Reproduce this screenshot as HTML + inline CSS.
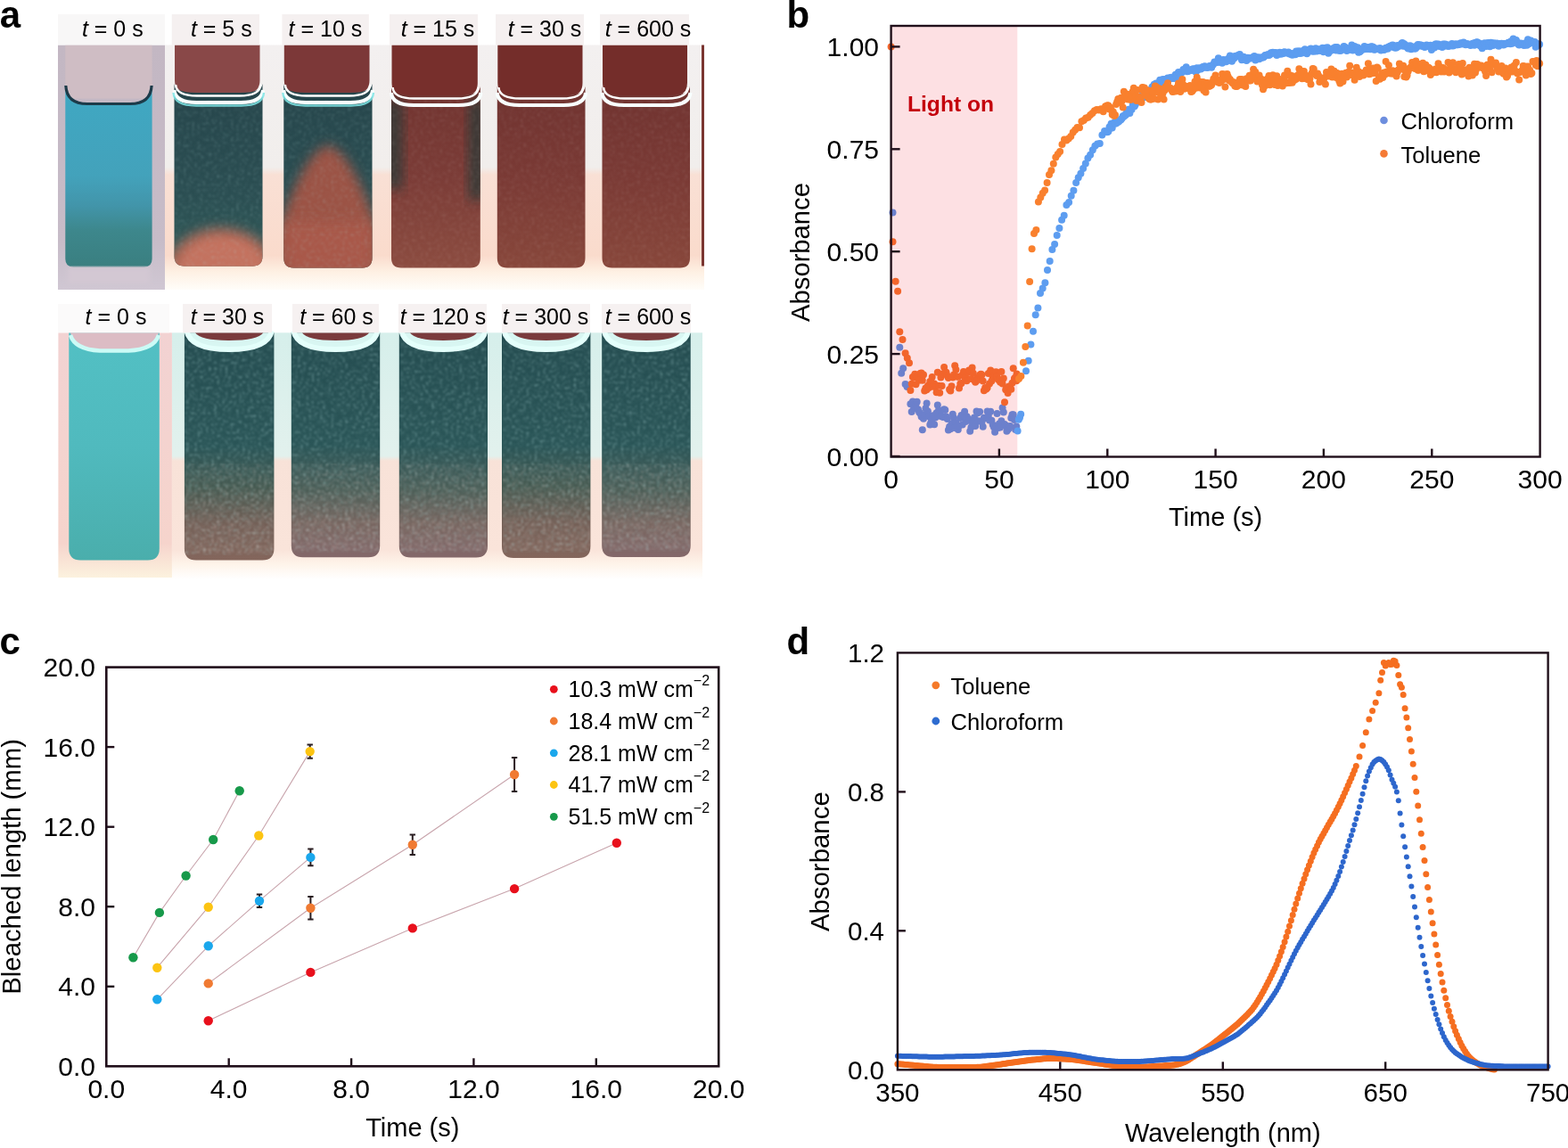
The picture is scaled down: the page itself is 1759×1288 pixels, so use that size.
<!DOCTYPE html>
<html><head><meta charset="utf-8"><title>Figure</title>
<style>html,body{margin:0;padding:0;background:#fff;width:1759px;height:1288px;overflow:hidden}svg{display:block}</style>
</head><body>
<svg width="1759" height="1288" viewBox="0 0 1759 1288" font-family="'Liberation Sans', Arial, Helvetica, sans-serif">
<defs><filter id="soft" x="-5%" y="-20%" width="110%" height="140%"><feGaussianBlur stdDeviation="0.7"/></filter><filter id="soft2" x="-10%" y="-10%" width="120%" height="120%"><feGaussianBlur stdDeviation="2.5"/></filter><filter id="blur6" x="-30%" y="-30%" width="160%" height="160%"><feGaussianBlur stdDeviation="7"/></filter><filter id="blur3" x="-30%" y="-30%" width="160%" height="160%"><feGaussianBlur stdDeviation="3.5"/></filter><filter id="grain" x="0" y="0" width="100%" height="100%"><feTurbulence type="fractalNoise" baseFrequency="0.32" numOctaves="2" seed="4"/><feColorMatrix values="0 0 0 0 0.45  0 0 0 0 0.72  0 0 0 0 0.72  0 0 0 3.0 -1.5"/><feGaussianBlur stdDeviation="0.8"/></filter><filter id="grainp" x="0" y="0" width="100%" height="100%"><feTurbulence type="fractalNoise" baseFrequency="0.32" numOctaves="2" seed="9"/><feColorMatrix values="0 0 0 0 0.85  0 0 0 0 0.75  0 0 0 0 0.72  0 0 0 3.0 -1.45"/><feGaussianBlur stdDeviation="0.8"/></filter><linearGradient id="c1liq" x1="0" y1="0" x2="0" y2="1"><stop offset="0" stop-color="#3fa8c3"/><stop offset="0.5" stop-color="#43a2bb"/><stop offset="0.66" stop-color="#4295aa"/><stop offset="0.8" stop-color="#3d878c"/><stop offset="1" stop-color="#3a7f80"/></linearGradient><linearGradient id="strip" x1="0" y1="0" x2="0" y2="1"><stop offset="0" stop-color="#f3f0f0"/><stop offset="0.5" stop-color="#f1eeec"/><stop offset="0.53" stop-color="#f9e0d5"/><stop offset="0.86" stop-color="#fadbcc"/><stop offset="0.93" stop-color="#fef1e4"/><stop offset="1" stop-color="#fffdf9"/></linearGradient><linearGradient id="c2liq" x1="0" y1="0" x2="0" y2="1"><stop offset="0" stop-color="#26454b"/><stop offset="0.6" stop-color="#2b4e52"/><stop offset="1" stop-color="#305a58"/></linearGradient><linearGradient id="c4liq" x1="0" y1="0" x2="0" y2="1"><stop offset="0" stop-color="#713430"/><stop offset="0.5" stop-color="#7b3c37"/><stop offset="1" stop-color="#8c4c40"/></linearGradient><linearGradient id="c5liq" x1="0" y1="0" x2="0" y2="1"><stop offset="0" stop-color="#703330"/><stop offset="0.5" stop-color="#7a3a35"/><stop offset="1" stop-color="#88473b"/></linearGradient><linearGradient id="b1liq" x1="0" y1="0" x2="0" y2="1"><stop offset="0" stop-color="#52c0c4"/><stop offset="0.5" stop-color="#50babe"/><stop offset="1" stop-color="#4aaeac"/></linearGradient><linearGradient id="bliq" x1="0" y1="0" x2="0" y2="1"><stop offset="0" stop-color="#244c50"/><stop offset="0.5" stop-color="#2a5557"/><stop offset="0.68" stop-color="#44584f"/><stop offset="0.84" stop-color="#725e55"/><stop offset="1" stop-color="#84665c"/></linearGradient><linearGradient id="bliq2" x1="0" y1="0" x2="0" y2="1"><stop offset="0" stop-color="#244c50"/><stop offset="0.5" stop-color="#2a5557"/><stop offset="0.7" stop-color="#4a5c55"/><stop offset="0.85" stop-color="#76645e"/><stop offset="1" stop-color="#84686a"/></linearGradient><linearGradient id="bstrip" x1="0" y1="0" x2="0" y2="1"><stop offset="0" stop-color="#d6efeb"/><stop offset="0.5" stop-color="#e2f1ed"/><stop offset="0.52" stop-color="#f8e2d8"/><stop offset="0.88" stop-color="#fae4da"/><stop offset="0.94" stop-color="#fef4ea"/><stop offset="1" stop-color="#ffffff"/></linearGradient><linearGradient id="b1out" x1="0" y1="0" x2="0" y2="1"><stop offset="0" stop-color="#f2d2d2"/><stop offset="0.86" stop-color="#f6d4cc"/><stop offset="1" stop-color="#fcf2de"/></linearGradient><linearGradient id="c1out" x1="0" y1="0" x2="0" y2="1"><stop offset="0" stop-color="#c3b7c3"/><stop offset="0.8" stop-color="#c7bcc8"/><stop offset="1" stop-color="#d0c7d3"/></linearGradient></defs>
<text x="-0.3" y="30.6" font-size="42" font-weight="bold">a</text>
<rect x="185" y="50.5" width="605" height="274.5" fill="url(#strip)"/>
<rect x="65" y="50.5" width="120" height="274.5" fill="url(#c1out)"/>
<rect x="73.3" y="50.5" width="97.3" height="60" fill="#cfbdc4"/>
<path d="M73.3 96.0Q74.3 117.0 97.6 117.0H146.3Q169.6 117.0 170.6 96.0V290.4Q170.6 299.4 161.6 299.4H82.3Q73.3 299.4 73.3 290.4Z" fill="url(#c1liq)"/>
<path d="M73.8 96.0Q74.8 116.5 97.9 116.5H146.0Q169.1 116.5 170.1 96.0" fill="none" stroke="#1c3a4a" stroke-width="3.2" filter="url(#soft)"/>
<rect x="76" y="300" width="92" height="18" fill="#d3c8d3" filter="url(#soft2)"/>
<path d="M196.0 50.5H291.5V90.0Q291.5 104.0 277.5 104.0H210.0Q196.0 104.0 196.0 90.0Z" fill="#894848"/>
<path d="M195.5 94.0Q196.5 104.0 220.2 104.0H269.8Q293.5 104.0 294.5 94.0V287.5Q294.5 298.5 283.5 298.5H206.5Q195.5 298.5 195.5 287.5Z" fill="url(#c2liq)"/>
<clipPath id="cl0"><path d="M195.5 94.0Q196.5 104.0 220.2 104.0H269.8Q293.5 104.0 294.5 94.0V287.5Q294.5 298.5 283.5 298.5H206.5Q195.5 298.5 195.5 287.5Z"/></clipPath>
<g clip-path="url(#cl0)"><ellipse cx="248.2" cy="312" rx="64" ry="56" fill="#b66a58" filter="url(#blur6)"/><ellipse cx="249.2" cy="302" rx="46" ry="34" fill="#c4725f" filter="url(#blur3)"/></g>
<g clip-path="url(#cl0)"><rect x="196.0" y="112" width="98.5" height="190" filter="url(#grain)" opacity="0.22"/></g>
<path d="M197.0 95.0Q198.0 107.5 220.9 107.5H268.6Q291.5 107.5 292.5 95.0" fill="none" stroke="#ffffff" stroke-width="2.6" filter="url(#soft)"/>
<path d="M195.5 101.0Q196.5 115.0 220.4 115.0H270.1Q294.0 115.0 295.0 101.0" fill="none" stroke="#f8ffff" stroke-width="4" filter="url(#soft)"/>
<path d="M194.5 104.0Q195.5 118.5 219.9 118.5H270.6Q295.0 118.5 296.0 104.0" fill="none" stroke="#7fe6e6" stroke-width="2.4" opacity="0.85" filter="url(#soft)"/>
<path d="M318.8 50.5H414.5V90.0Q414.5 104.0 400.5 104.0H332.8Q318.8 104.0 318.8 90.0Z" fill="#7c3838"/>
<path d="M318.3 94.0Q319.3 104.0 343.1 104.0H392.7Q416.5 104.0 417.5 94.0V289.5Q417.5 300.5 406.5 300.5H329.3Q318.3 300.5 318.3 289.5Z" fill="url(#c2liq)"/>
<clipPath id="cl1"><path d="M318.3 94.0Q319.3 104.0 343.1 104.0H392.7Q416.5 104.0 417.5 94.0V289.5Q417.5 300.5 406.5 300.5H329.3Q318.3 300.5 318.3 289.5Z"/></clipPath>
<g clip-path="url(#cl1)"><path d="M306.8 305 L310.8 262 Q342.1 168 368.1 163 Q394.1 168 425.5 262 L429.5 305Z" fill="#9c5244" filter="url(#blur6)"/><rect x="318.8" y="250" width="98.69999999999999" height="60" fill="#a9594a" filter="url(#blur6)"/></g>
<g clip-path="url(#cl1)"><rect x="318.8" y="112" width="98.69999999999999" height="190" filter="url(#grain)" opacity="0.22"/></g>
<path d="M319.8 95.0Q320.8 107.5 343.7 107.5H391.6Q414.5 107.5 415.5 95.0" fill="none" stroke="#ffffff" stroke-width="2.6" filter="url(#soft)"/>
<path d="M318.3 101.0Q319.3 115.0 343.2 115.0H393.1Q417.0 115.0 418.0 101.0" fill="none" stroke="#f8ffff" stroke-width="4" filter="url(#soft)"/>
<path d="M317.3 104.0Q318.3 118.5 342.7 118.5H393.6Q418.0 118.5 419.0 104.0" fill="none" stroke="#7fe6e6" stroke-width="2.4" opacity="0.85" filter="url(#soft)"/>
<path d="M439.5 50.5H535.8V93.0Q535.8 107.0 521.8 107.0H453.5Q439.5 107.0 439.5 93.0Z" fill="#772f2c"/>
<path d="M439.0 97.0Q440.0 107.0 463.9 107.0H513.8Q537.8 107.0 538.8 97.0V289.5Q538.8 300.5 527.8 300.5H450.0Q439.0 300.5 439.0 289.5Z" fill="url(#c4liq)"/>
<clipPath id="cl2"><path d="M439.0 97.0Q440.0 107.0 463.9 107.0H513.8Q537.8 107.0 538.8 97.0V289.5Q538.8 300.5 527.8 300.5H450.0Q439.0 300.5 439.0 289.5Z"/></clipPath>
<g clip-path="url(#cl2)" opacity="0.85"><rect x="432.5" y="112" width="19" height="100" fill="#2c3a38" filter="url(#blur6)"/><rect x="525.8" y="112" width="19" height="112" fill="#2c3a38" filter="url(#blur6)"/></g>
<g clip-path="url(#cl2)"><rect x="439.5" y="112" width="99.29999999999995" height="190" filter="url(#grainp)" opacity="0.12"/></g>
<path d="M440.5 98.0Q441.5 110.5 464.6 110.5H512.7Q535.8 110.5 536.8 98.0" fill="none" stroke="#ffffff" stroke-width="2.6" filter="url(#soft)"/>
<path d="M439.0 104.0Q440.0 118.0 464.1 118.0H514.2Q538.3 118.0 539.3 104.0" fill="none" stroke="#f8ffff" stroke-width="4" filter="url(#soft)"/>
<path d="M558.3 50.5H653.5V93.0Q653.5 107.0 639.5 107.0H572.3Q558.3 107.0 558.3 93.0Z" fill="#742d2a"/>
<path d="M557.8 97.0Q558.8 107.0 582.5 107.0H631.8Q655.5 107.0 656.5 97.0V289.5Q656.5 300.5 645.5 300.5H568.8Q557.8 300.5 557.8 289.5Z" fill="url(#c5liq)"/>
<clipPath id="cl3"><path d="M557.8 97.0Q558.8 107.0 582.5 107.0H631.8Q655.5 107.0 656.5 97.0V289.5Q656.5 300.5 645.5 300.5H568.8Q557.8 300.5 557.8 289.5Z"/></clipPath>
<g clip-path="url(#cl3)"><rect x="558.3" y="112" width="98.20000000000005" height="190" filter="url(#grainp)" opacity="0.12"/></g>
<path d="M559.3 98.0Q560.3 110.5 583.1 110.5H630.7Q653.5 110.5 654.5 98.0" fill="none" stroke="#ffffff" stroke-width="2.6" filter="url(#soft)"/>
<path d="M557.8 104.0Q558.8 118.0 582.6 118.0H632.2Q656.0 118.0 657.0 104.0" fill="none" stroke="#f8ffff" stroke-width="4" filter="url(#soft)"/>
<path d="M676.0 50.5H771.0V93.0Q771.0 107.0 757.0 107.0H690.0Q676.0 107.0 676.0 93.0Z" fill="#742d2a"/>
<path d="M675.5 97.0Q676.5 107.0 700.1 107.0H749.4Q773.0 107.0 774.0 97.0V289.5Q774.0 300.5 763.0 300.5H686.5Q675.5 300.5 675.5 289.5Z" fill="url(#c5liq)"/>
<clipPath id="cl4"><path d="M675.5 97.0Q676.5 107.0 700.1 107.0H749.4Q773.0 107.0 774.0 97.0V289.5Q774.0 300.5 763.0 300.5H686.5Q675.5 300.5 675.5 289.5Z"/></clipPath>
<g clip-path="url(#cl4)"><rect x="676.0" y="112" width="98.0" height="190" filter="url(#grainp)" opacity="0.12"/></g>
<path d="M677.0 98.0Q678.0 110.5 700.8 110.5H748.2Q771.0 110.5 772.0 98.0" fill="none" stroke="#ffffff" stroke-width="2.6" filter="url(#soft)"/>
<path d="M675.5 104.0Q676.5 118.0 700.2 118.0H749.8Q773.5 118.0 774.5 104.0" fill="none" stroke="#f8ffff" stroke-width="4" filter="url(#soft)"/>
<rect x="787" y="50.5" width="3" height="248" fill="#7a3530"/>
<rect x="65" y="16" width="120" height="34.5" fill="#f8f7f7"/>
<rect x="192.7" y="16" width="98.30000000000001" height="34.5" fill="#f5f0f0"/>
<rect x="316.4" y="16" width="97.40000000000003" height="34.5" fill="#f5f0f0"/>
<rect x="437" y="16" width="99" height="34.5" fill="#f5f0f0"/>
<rect x="556" y="16" width="99" height="34.5" fill="#f5f0f0"/>
<rect x="673" y="16" width="100" height="34.5" fill="#f5f0f0"/>
<rect x="193" y="373.3" width="595" height="276.7" fill="url(#bstrip)"/>
<rect x="65.4" y="373.3" width="127.5" height="274.7" fill="url(#b1out)"/>
<path d="M77.3 373.3H178.8V615.5Q178.8 628.5 165.8 628.5H90.3Q77.3 628.5 77.3 615.5Z" fill="url(#b1liq)"/>
<path d="M79 373.3 Q82 392 110 393 L146 393 Q175 392 178 373.3Z" fill="#dcbcc4"/>
<path d="M79 376 Q84 392 112 393.5 L144 393.5 Q173 392 178 376" fill="none" stroke="#cbfbf6" stroke-width="4.5" filter="url(#soft)"/>
<path d="M206.9 373.3H307.4V615.5Q307.4 628.5 294.4 628.5H219.9Q206.9 628.5 206.9 615.5Z" fill="url(#bliq)"/>
<rect x="207.9" y="380" width="98.49999999999997" height="242.5" filter="url(#grain)" opacity="0.4"/>
<rect x="207.9" y="520" width="98.49999999999997" height="100.5" filter="url(#grainp)" opacity="0.3"/>
<path d="M210.9 373.3 Q215.9 390 257.1 390 Q298.4 390 303.4 373.3Z" fill="#d8f6f2"/>
<path d="M218.9 373.3 Q224.9 382 257.1 382 Q289.4 382 295.4 373.3Z" fill="#7a3a3c"/>
<path d="M209.4 371.3 Q213.9 392 257.1 392 Q300.4 392 304.9 371.3" fill="none" stroke="#e4fffb" stroke-width="6" filter="url(#soft)"/>
<path d="M326.8 373.3H426.2V612.3Q426.2 625.3 413.2 625.3H339.8Q326.8 625.3 326.8 612.3Z" fill="url(#bliq2)"/>
<rect x="327.8" y="380" width="97.39999999999998" height="239.29999999999995" filter="url(#grain)" opacity="0.4"/>
<rect x="327.8" y="520" width="97.39999999999998" height="97.29999999999995" filter="url(#grainp)" opacity="0.3"/>
<path d="M330.8 373.3 Q335.8 390 376.5 390 Q417.2 390 422.2 373.3Z" fill="#d8f6f2"/>
<path d="M338.8 373.3 Q344.8 382 376.5 382 Q408.2 382 414.2 373.3Z" fill="#7a3a3c"/>
<path d="M329.3 371.3 Q333.8 392 376.5 392 Q419.2 392 423.7 371.3" fill="none" stroke="#e4fffb" stroke-width="6" filter="url(#soft)"/>
<path d="M447.8 373.3H547.0V612.5Q547.0 625.5 534.0 625.5H460.8Q447.8 625.5 447.8 612.5Z" fill="url(#bliq2)"/>
<rect x="448.8" y="380" width="97.19999999999999" height="239.5" filter="url(#grain)" opacity="0.4"/>
<rect x="448.8" y="520" width="97.19999999999999" height="97.5" filter="url(#grainp)" opacity="0.3"/>
<path d="M451.8 373.3 Q456.8 390 497.4 390 Q538.0 390 543.0 373.3Z" fill="#d8f6f2"/>
<path d="M459.8 373.3 Q465.8 382 497.4 382 Q529.0 382 535.0 373.3Z" fill="#7a3a3c"/>
<path d="M450.3 371.3 Q454.8 392 497.4 392 Q540.0 392 544.5 371.3" fill="none" stroke="#e4fffb" stroke-width="6" filter="url(#soft)"/>
<path d="M563.0 373.3H662.4V613.0Q662.4 626.0 649.4 626.0H576.0Q563.0 626.0 563.0 613.0Z" fill="url(#bliq)"/>
<rect x="564.0" y="380" width="97.39999999999998" height="240" filter="url(#grain)" opacity="0.4"/>
<rect x="564.0" y="520" width="97.39999999999998" height="98" filter="url(#grainp)" opacity="0.3"/>
<path d="M567.0 373.3 Q572.0 390 612.7 390 Q653.4 390 658.4 373.3Z" fill="#d8f6f2"/>
<path d="M575.0 373.3 Q581.0 382 612.7 382 Q644.4 382 650.4 373.3Z" fill="#7a3a3c"/>
<path d="M565.5 371.3 Q570.0 392 612.7 392 Q655.4 392 659.9 371.3" fill="none" stroke="#e4fffb" stroke-width="6" filter="url(#soft)"/>
<path d="M675.2 373.3H774.7V612.0Q774.7 625.0 761.7 625.0H688.2Q675.2 625.0 675.2 612.0Z" fill="url(#bliq2)"/>
<rect x="676.2" y="380" width="97.5" height="239" filter="url(#grain)" opacity="0.4"/>
<rect x="676.2" y="520" width="97.5" height="97" filter="url(#grainp)" opacity="0.3"/>
<path d="M679.2 373.3 Q684.2 390 725.0 390 Q765.7 390 770.7 373.3Z" fill="#d8f6f2"/>
<path d="M687.2 373.3 Q693.2 382 725.0 382 Q756.7 382 762.7 373.3Z" fill="#7a3a3c"/>
<path d="M677.7 371.3 Q682.2 392 725.0 392 Q767.7 392 772.2 371.3" fill="none" stroke="#e4fffb" stroke-width="6" filter="url(#soft)"/>
<rect x="65" y="341" width="125" height="32.3" fill="#fbfafa"/>
<rect x="205" y="341" width="100" height="32.3" fill="#f6f1f1"/>
<rect x="328" y="341" width="97" height="32.3" fill="#f6f1f1"/>
<rect x="447" y="341" width="99" height="32.3" fill="#f6f1f1"/>
<rect x="563" y="341" width="99" height="32.3" fill="#f6f1f1"/>
<rect x="675" y="341" width="100" height="32.3" fill="#f6f1f1"/>
<text x="126.3" y="40.8" text-anchor="middle" font-size="25"><tspan font-style="italic">t</tspan> = 0 s</text>
<text x="248.3" y="40.8" text-anchor="middle" font-size="25"><tspan font-style="italic">t</tspan> = 5 s</text>
<text x="364.9" y="40.8" text-anchor="middle" font-size="25"><tspan font-style="italic">t</tspan> = 10 s</text>
<text x="491" y="40.8" text-anchor="middle" font-size="25"><tspan font-style="italic">t</tspan> = 15 s</text>
<text x="611" y="40.8" text-anchor="middle" font-size="25"><tspan font-style="italic">t</tspan> = 30 s</text>
<text x="727" y="40.8" text-anchor="middle" font-size="25"><tspan font-style="italic">t</tspan> = 600 s</text>
<text x="130" y="364.2" text-anchor="middle" font-size="25"><tspan font-style="italic">t</tspan> = 0 s</text>
<text x="255" y="364.2" text-anchor="middle" font-size="25"><tspan font-style="italic">t</tspan> = 30 s</text>
<text x="377.5" y="364.2" text-anchor="middle" font-size="25"><tspan font-style="italic">t</tspan> = 60 s</text>
<text x="497" y="364.2" text-anchor="middle" font-size="25"><tspan font-style="italic">t</tspan> = 120 s</text>
<text x="612" y="364.2" text-anchor="middle" font-size="25"><tspan font-style="italic">t</tspan> = 300 s</text>
<text x="727" y="364.2" text-anchor="middle" font-size="25"><tspan font-style="italic">t</tspan> = 600 s</text>
<rect x="999.6" y="29.0" width="141.7" height="483.5" fill="#fde0e3"/>
<g fill="#5d9df0">
<circle cx="1001.5" cy="238.5" r="4" fill="#6c80cc"/>
<circle cx="1009.3" cy="389.7" r="4" fill="#6c80cc"/>
<circle cx="1011.2" cy="418.7" r="4" fill="#6c80cc"/>
<circle cx="1013.2" cy="413.2" r="4" fill="#6c80cc"/>
<circle cx="1015.6" cy="431.1" r="4" fill="#6c80cc"/>
<circle cx="1017.6" cy="433.9" r="4" fill="#6c80cc"/>
<circle cx="1021.4" cy="453.2" r="4" fill="#6c80cc"/>
<circle cx="1022.7" cy="462.1" r="4" fill="#6c80cc"/>
<circle cx="1023.9" cy="450.6" r="4" fill="#6c80cc"/>
<circle cx="1025.1" cy="458.3" r="4" fill="#6c80cc"/>
<circle cx="1026.3" cy="457.5" r="4" fill="#6c80cc"/>
<circle cx="1027.5" cy="453.5" r="4" fill="#6c80cc"/>
<circle cx="1028.7" cy="450.7" r="4" fill="#6c80cc"/>
<circle cx="1029.9" cy="459.3" r="4" fill="#6c80cc"/>
<circle cx="1031.1" cy="462.6" r="4" fill="#6c80cc"/>
<circle cx="1032.4" cy="463.7" r="4" fill="#6c80cc"/>
<circle cx="1033.6" cy="467.6" r="4" fill="#6c80cc"/>
<circle cx="1034.8" cy="482.3" r="4" fill="#6c80cc"/>
<circle cx="1036.0" cy="469.8" r="4" fill="#6c80cc"/>
<circle cx="1037.2" cy="465.5" r="4" fill="#6c80cc"/>
<circle cx="1038.4" cy="458.3" r="4" fill="#6c80cc"/>
<circle cx="1039.6" cy="452.6" r="4" fill="#6c80cc"/>
<circle cx="1040.9" cy="461.5" r="4" fill="#6c80cc"/>
<circle cx="1042.1" cy="467.3" r="4" fill="#6c80cc"/>
<circle cx="1043.3" cy="476.4" r="4" fill="#6c80cc"/>
<circle cx="1044.5" cy="473.4" r="4" fill="#6c80cc"/>
<circle cx="1045.7" cy="470.3" r="4" fill="#6c80cc"/>
<circle cx="1046.9" cy="466.3" r="4" fill="#6c80cc"/>
<circle cx="1048.1" cy="476.2" r="4" fill="#6c80cc"/>
<circle cx="1049.3" cy="468.4" r="4" fill="#6c80cc"/>
<circle cx="1050.6" cy="463.3" r="4" fill="#6c80cc"/>
<circle cx="1051.8" cy="454.6" r="4" fill="#6c80cc"/>
<circle cx="1053.0" cy="460.2" r="4" fill="#6c80cc"/>
<circle cx="1054.2" cy="463.9" r="4" fill="#6c80cc"/>
<circle cx="1055.4" cy="467.0" r="4" fill="#6c80cc"/>
<circle cx="1056.6" cy="467.1" r="4" fill="#6c80cc"/>
<circle cx="1057.8" cy="468.1" r="4" fill="#6c80cc"/>
<circle cx="1059.1" cy="459.2" r="4" fill="#6c80cc"/>
<circle cx="1060.3" cy="460.1" r="4" fill="#6c80cc"/>
<circle cx="1061.5" cy="467.4" r="4" fill="#6c80cc"/>
<circle cx="1062.7" cy="470.1" r="4" fill="#6c80cc"/>
<circle cx="1063.9" cy="482.4" r="4" fill="#6c80cc"/>
<circle cx="1065.1" cy="478.7" r="4" fill="#6c80cc"/>
<circle cx="1066.3" cy="481.3" r="4" fill="#6c80cc"/>
<circle cx="1067.5" cy="475.5" r="4" fill="#6c80cc"/>
<circle cx="1068.8" cy="464.8" r="4" fill="#6c80cc"/>
<circle cx="1070.0" cy="469.1" r="4" fill="#6c80cc"/>
<circle cx="1071.2" cy="480.0" r="4" fill="#6c80cc"/>
<circle cx="1072.4" cy="474.2" r="4" fill="#6c80cc"/>
<circle cx="1073.6" cy="478.5" r="4" fill="#6c80cc"/>
<circle cx="1074.8" cy="482.1" r="4" fill="#6c80cc"/>
<circle cx="1076.0" cy="477.6" r="4" fill="#6c80cc"/>
<circle cx="1077.3" cy="469.1" r="4" fill="#6c80cc"/>
<circle cx="1078.5" cy="466.0" r="4" fill="#6c80cc"/>
<circle cx="1079.7" cy="476.6" r="4" fill="#6c80cc"/>
<circle cx="1080.9" cy="465.6" r="4" fill="#6c80cc"/>
<circle cx="1082.1" cy="461.8" r="4" fill="#6c80cc"/>
<circle cx="1083.3" cy="472.9" r="4" fill="#6c80cc"/>
<circle cx="1084.5" cy="467.2" r="4" fill="#6c80cc"/>
<circle cx="1085.7" cy="469.6" r="4" fill="#6c80cc"/>
<circle cx="1087.0" cy="471.4" r="4" fill="#6c80cc"/>
<circle cx="1088.2" cy="483.8" r="4" fill="#6c80cc"/>
<circle cx="1089.4" cy="479.4" r="4" fill="#6c80cc"/>
<circle cx="1090.6" cy="473.4" r="4" fill="#6c80cc"/>
<circle cx="1091.8" cy="472.7" r="4" fill="#6c80cc"/>
<circle cx="1093.0" cy="468.6" r="4" fill="#6c80cc"/>
<circle cx="1094.2" cy="478.0" r="4" fill="#6c80cc"/>
<circle cx="1095.5" cy="461.4" r="4" fill="#6c80cc"/>
<circle cx="1096.7" cy="463.4" r="4" fill="#6c80cc"/>
<circle cx="1097.9" cy="472.2" r="4" fill="#6c80cc"/>
<circle cx="1099.1" cy="461.9" r="4" fill="#6c80cc"/>
<circle cx="1100.3" cy="472.7" r="4" fill="#6c80cc"/>
<circle cx="1101.5" cy="473.3" r="4" fill="#6c80cc"/>
<circle cx="1102.7" cy="478.8" r="4" fill="#6c80cc"/>
<circle cx="1103.9" cy="468.7" r="4" fill="#6c80cc"/>
<circle cx="1105.2" cy="469.1" r="4" fill="#6c80cc"/>
<circle cx="1106.4" cy="468.9" r="4" fill="#6c80cc"/>
<circle cx="1107.6" cy="461.5" r="4" fill="#6c80cc"/>
<circle cx="1108.8" cy="466.8" r="4" fill="#6c80cc"/>
<circle cx="1110.0" cy="471.5" r="4" fill="#6c80cc"/>
<circle cx="1111.2" cy="461.8" r="4" fill="#6c80cc"/>
<circle cx="1112.4" cy="471.8" r="4" fill="#6c80cc"/>
<circle cx="1113.7" cy="476.5" r="4" fill="#6c80cc"/>
<circle cx="1114.9" cy="479.3" r="4" fill="#6c80cc"/>
<circle cx="1116.1" cy="484.8" r="4" fill="#6c80cc"/>
<circle cx="1117.3" cy="478.2" r="4" fill="#6c80cc"/>
<circle cx="1118.5" cy="464.0" r="4" fill="#6c80cc"/>
<circle cx="1119.7" cy="479.9" r="4" fill="#6c80cc"/>
<circle cx="1120.9" cy="475.4" r="4" fill="#6c80cc"/>
<circle cx="1122.1" cy="479.6" r="4" fill="#6c80cc"/>
<circle cx="1123.4" cy="472.3" r="4" fill="#6c80cc"/>
<circle cx="1124.6" cy="457.4" r="4" fill="#6c80cc"/>
<circle cx="1125.8" cy="462.5" r="4" fill="#6c80cc"/>
<circle cx="1127.0" cy="476.0" r="4" fill="#6c80cc"/>
<circle cx="1128.2" cy="477.5" r="4" fill="#6c80cc"/>
<circle cx="1129.4" cy="483.8" r="4" fill="#6c80cc"/>
<circle cx="1130.6" cy="482.1" r="4" fill="#6c80cc"/>
<circle cx="1131.9" cy="480.4" r="4" fill="#6c80cc"/>
<circle cx="1133.1" cy="478.0" r="4" fill="#6c80cc"/>
<circle cx="1134.3" cy="468.9" r="4" fill="#6c80cc"/>
<circle cx="1135.5" cy="465.2" r="4" fill="#6c80cc"/>
<circle cx="1136.7" cy="465.3" r="4" fill="#6c80cc"/>
<circle cx="1137.9" cy="471.1" r="4" fill="#6c80cc"/>
<circle cx="1139.1" cy="481.9" r="4" fill="#6c80cc"/>
<circle cx="1140.3" cy="478.5" r="4" fill="#6c80cc"/>
<circle cx="1141.6" cy="483.6" r="4"/>
<circle cx="1142.8" cy="470.7" r="4"/>
<circle cx="1144.0" cy="468.5" r="4"/>
<circle cx="1145.2" cy="464.7" r="4"/>
<circle cx="1151.0" cy="416.2" r="4"/>
<circle cx="1153.7" cy="404.7" r="4"/>
<circle cx="1156.4" cy="386.4" r="4"/>
<circle cx="1159.0" cy="371.7" r="4"/>
<circle cx="1161.7" cy="353.2" r="4"/>
<circle cx="1164.4" cy="345.6" r="4"/>
<circle cx="1167.0" cy="329.0" r="4"/>
<circle cx="1169.7" cy="323.6" r="4"/>
<circle cx="1172.4" cy="317.3" r="4"/>
<circle cx="1175.0" cy="303.1" r="4"/>
<circle cx="1177.7" cy="293.0" r="4"/>
<circle cx="1180.4" cy="279.9" r="4"/>
<circle cx="1183.1" cy="273.9" r="4"/>
<circle cx="1185.7" cy="263.9" r="4"/>
<circle cx="1188.4" cy="256.1" r="4"/>
<circle cx="1191.1" cy="246.7" r="4"/>
<circle cx="1193.7" cy="241.7" r="4"/>
<circle cx="1196.4" cy="230.1" r="4"/>
<circle cx="1199.1" cy="226.9" r="4"/>
<circle cx="1201.7" cy="219.7" r="4"/>
<circle cx="1204.4" cy="213.7" r="4"/>
<circle cx="1207.1" cy="205.0" r="4"/>
<circle cx="1209.7" cy="199.2" r="4"/>
<circle cx="1212.4" cy="194.7" r="4"/>
<circle cx="1215.1" cy="189.1" r="4"/>
<circle cx="1217.8" cy="183.5" r="4"/>
<circle cx="1220.4" cy="177.4" r="4"/>
<circle cx="1223.1" cy="173.7" r="4"/>
<circle cx="1225.8" cy="168.3" r="4"/>
<circle cx="1228.4" cy="163.7" r="4"/>
<circle cx="1231.1" cy="161.5" r="4"/>
<circle cx="1233.8" cy="161.0" r="4"/>
<circle cx="1236.4" cy="151.4" r="4"/>
<circle cx="1239.1" cy="146.9" r="4"/>
<circle cx="1241.8" cy="148.3" r="4"/>
<circle cx="1242.3" cy="147.9" r="4"/>
<circle cx="1243.4" cy="147.5" r="4"/>
<circle cx="1244.5" cy="142.5" r="4"/>
<circle cx="1245.5" cy="143.8" r="4"/>
<circle cx="1246.6" cy="138.7" r="4"/>
<circle cx="1247.7" cy="143.6" r="4"/>
<circle cx="1248.8" cy="139.1" r="4"/>
<circle cx="1249.9" cy="137.6" r="4"/>
<circle cx="1251.0" cy="138.5" r="4"/>
<circle cx="1252.1" cy="138.6" r="4"/>
<circle cx="1253.2" cy="136.5" r="4"/>
<circle cx="1254.3" cy="137.1" r="4"/>
<circle cx="1255.4" cy="136.1" r="4"/>
<circle cx="1256.5" cy="134.7" r="4"/>
<circle cx="1257.6" cy="134.3" r="4"/>
<circle cx="1258.6" cy="132.7" r="4"/>
<circle cx="1259.7" cy="130.2" r="4"/>
<circle cx="1260.8" cy="130.7" r="4"/>
<circle cx="1261.9" cy="128.9" r="4"/>
<circle cx="1263.0" cy="129.0" r="4"/>
<circle cx="1264.1" cy="125.4" r="4"/>
<circle cx="1265.2" cy="127.1" r="4"/>
<circle cx="1266.3" cy="122.7" r="4"/>
<circle cx="1267.4" cy="126.9" r="4"/>
<circle cx="1268.5" cy="122.8" r="4"/>
<circle cx="1269.6" cy="122.7" r="4"/>
<circle cx="1270.7" cy="118.0" r="4"/>
<circle cx="1271.8" cy="118.0" r="4"/>
<circle cx="1272.8" cy="119.2" r="4"/>
<circle cx="1273.9" cy="117.1" r="4"/>
<circle cx="1275.0" cy="113.4" r="4"/>
<circle cx="1276.1" cy="114.2" r="4"/>
<circle cx="1277.2" cy="112.2" r="4"/>
<circle cx="1278.3" cy="114.0" r="4"/>
<circle cx="1279.4" cy="113.1" r="4"/>
<circle cx="1280.5" cy="109.5" r="4"/>
<circle cx="1281.6" cy="106.4" r="4"/>
<circle cx="1282.7" cy="109.6" r="4"/>
<circle cx="1283.8" cy="107.3" r="4"/>
<circle cx="1284.9" cy="108.6" r="4"/>
<circle cx="1285.9" cy="104.5" r="4"/>
<circle cx="1287.0" cy="105.8" r="4"/>
<circle cx="1288.1" cy="104.7" r="4"/>
<circle cx="1289.2" cy="105.7" r="4"/>
<circle cx="1290.3" cy="102.5" r="4"/>
<circle cx="1291.4" cy="100.5" r="4"/>
<circle cx="1292.5" cy="97.4" r="4"/>
<circle cx="1293.6" cy="99.3" r="4"/>
<circle cx="1294.7" cy="94.7" r="4"/>
<circle cx="1295.8" cy="95.0" r="4"/>
<circle cx="1296.9" cy="93.6" r="4"/>
<circle cx="1298.0" cy="93.7" r="4"/>
<circle cx="1299.1" cy="94.6" r="4"/>
<circle cx="1300.1" cy="93.8" r="4"/>
<circle cx="1301.2" cy="89.7" r="4"/>
<circle cx="1302.3" cy="93.3" r="4"/>
<circle cx="1303.4" cy="91.8" r="4"/>
<circle cx="1304.5" cy="89.1" r="4"/>
<circle cx="1305.6" cy="92.9" r="4"/>
<circle cx="1306.7" cy="88.9" r="4"/>
<circle cx="1307.8" cy="89.8" r="4"/>
<circle cx="1308.9" cy="88.6" r="4"/>
<circle cx="1310.0" cy="87.4" r="4"/>
<circle cx="1311.1" cy="88.7" r="4"/>
<circle cx="1312.2" cy="88.5" r="4"/>
<circle cx="1313.2" cy="86.9" r="4"/>
<circle cx="1314.3" cy="86.7" r="4"/>
<circle cx="1315.4" cy="88.1" r="4"/>
<circle cx="1316.5" cy="86.9" r="4"/>
<circle cx="1317.6" cy="88.0" r="4"/>
<circle cx="1318.7" cy="83.8" r="4"/>
<circle cx="1319.8" cy="86.7" r="4"/>
<circle cx="1320.9" cy="84.1" r="4"/>
<circle cx="1322.0" cy="81.1" r="4"/>
<circle cx="1323.1" cy="81.5" r="4"/>
<circle cx="1324.2" cy="82.0" r="4"/>
<circle cx="1325.3" cy="81.6" r="4"/>
<circle cx="1326.4" cy="80.7" r="4"/>
<circle cx="1327.4" cy="77.9" r="4"/>
<circle cx="1328.5" cy="78.4" r="4"/>
<circle cx="1329.6" cy="78.9" r="4"/>
<circle cx="1330.7" cy="75.3" r="4"/>
<circle cx="1331.8" cy="80.2" r="4"/>
<circle cx="1332.9" cy="79.8" r="4"/>
<circle cx="1334.0" cy="79.6" r="4"/>
<circle cx="1335.1" cy="78.6" r="4"/>
<circle cx="1336.2" cy="78.3" r="4"/>
<circle cx="1337.3" cy="78.9" r="4"/>
<circle cx="1338.4" cy="77.3" r="4"/>
<circle cx="1339.5" cy="77.4" r="4"/>
<circle cx="1340.5" cy="78.3" r="4"/>
<circle cx="1341.6" cy="81.0" r="4"/>
<circle cx="1342.7" cy="76.2" r="4"/>
<circle cx="1343.8" cy="78.3" r="4"/>
<circle cx="1344.9" cy="77.4" r="4"/>
<circle cx="1346.0" cy="76.3" r="4"/>
<circle cx="1347.1" cy="77.4" r="4"/>
<circle cx="1348.2" cy="76.5" r="4"/>
<circle cx="1349.3" cy="75.0" r="4"/>
<circle cx="1350.4" cy="75.4" r="4"/>
<circle cx="1351.5" cy="74.3" r="4"/>
<circle cx="1352.6" cy="75.8" r="4"/>
<circle cx="1353.7" cy="74.9" r="4"/>
<circle cx="1354.7" cy="76.1" r="4"/>
<circle cx="1355.8" cy="75.0" r="4"/>
<circle cx="1356.9" cy="74.1" r="4"/>
<circle cx="1358.0" cy="74.5" r="4"/>
<circle cx="1359.1" cy="75.7" r="4"/>
<circle cx="1360.2" cy="73.2" r="4"/>
<circle cx="1361.3" cy="71.9" r="4"/>
<circle cx="1362.4" cy="69.5" r="4"/>
<circle cx="1363.5" cy="70.0" r="4"/>
<circle cx="1364.6" cy="69.7" r="4"/>
<circle cx="1365.7" cy="70.1" r="4"/>
<circle cx="1366.8" cy="65.3" r="4"/>
<circle cx="1367.8" cy="69.2" r="4"/>
<circle cx="1368.9" cy="69.5" r="4"/>
<circle cx="1370.0" cy="68.3" r="4"/>
<circle cx="1371.1" cy="70.8" r="4"/>
<circle cx="1372.2" cy="67.0" r="4"/>
<circle cx="1373.3" cy="68.2" r="4"/>
<circle cx="1374.4" cy="67.5" r="4"/>
<circle cx="1375.5" cy="69.2" r="4"/>
<circle cx="1376.6" cy="68.1" r="4"/>
<circle cx="1377.7" cy="65.9" r="4"/>
<circle cx="1378.8" cy="65.5" r="4"/>
<circle cx="1379.9" cy="62.6" r="4"/>
<circle cx="1381.0" cy="64.9" r="4"/>
<circle cx="1382.0" cy="68.8" r="4"/>
<circle cx="1383.1" cy="65.7" r="4"/>
<circle cx="1384.2" cy="65.7" r="4"/>
<circle cx="1385.3" cy="63.0" r="4"/>
<circle cx="1386.4" cy="63.8" r="4"/>
<circle cx="1387.5" cy="62.4" r="4"/>
<circle cx="1388.6" cy="63.1" r="4"/>
<circle cx="1389.7" cy="61.8" r="4"/>
<circle cx="1390.8" cy="61.0" r="4"/>
<circle cx="1391.9" cy="64.5" r="4"/>
<circle cx="1393.0" cy="67.2" r="4"/>
<circle cx="1394.1" cy="66.7" r="4"/>
<circle cx="1395.1" cy="63.8" r="4"/>
<circle cx="1396.2" cy="66.1" r="4"/>
<circle cx="1397.3" cy="67.0" r="4"/>
<circle cx="1398.4" cy="67.9" r="4"/>
<circle cx="1399.5" cy="64.7" r="4"/>
<circle cx="1400.6" cy="65.3" r="4"/>
<circle cx="1401.7" cy="65.4" r="4"/>
<circle cx="1402.8" cy="65.6" r="4"/>
<circle cx="1403.9" cy="64.9" r="4"/>
<circle cx="1405.0" cy="65.1" r="4"/>
<circle cx="1406.1" cy="63.8" r="4"/>
<circle cx="1407.2" cy="62.9" r="4"/>
<circle cx="1408.3" cy="67.4" r="4"/>
<circle cx="1409.3" cy="66.6" r="4"/>
<circle cx="1410.4" cy="64.7" r="4"/>
<circle cx="1411.5" cy="64.3" r="4"/>
<circle cx="1412.6" cy="66.3" r="4"/>
<circle cx="1413.7" cy="64.9" r="4"/>
<circle cx="1414.8" cy="64.5" r="4"/>
<circle cx="1415.9" cy="64.5" r="4"/>
<circle cx="1417.0" cy="64.4" r="4"/>
<circle cx="1418.1" cy="63.7" r="4"/>
<circle cx="1419.2" cy="62.1" r="4"/>
<circle cx="1420.3" cy="61.9" r="4"/>
<circle cx="1421.4" cy="61.5" r="4"/>
<circle cx="1422.4" cy="61.3" r="4"/>
<circle cx="1423.5" cy="62.1" r="4"/>
<circle cx="1424.6" cy="61.2" r="4"/>
<circle cx="1425.7" cy="59.2" r="4"/>
<circle cx="1426.8" cy="59.8" r="4"/>
<circle cx="1427.9" cy="58.7" r="4"/>
<circle cx="1429.0" cy="59.4" r="4"/>
<circle cx="1430.1" cy="59.6" r="4"/>
<circle cx="1431.2" cy="59.1" r="4"/>
<circle cx="1432.3" cy="61.9" r="4"/>
<circle cx="1433.4" cy="60.0" r="4"/>
<circle cx="1434.5" cy="60.6" r="4"/>
<circle cx="1435.6" cy="58.7" r="4"/>
<circle cx="1436.6" cy="60.7" r="4"/>
<circle cx="1437.7" cy="59.4" r="4"/>
<circle cx="1438.8" cy="60.2" r="4"/>
<circle cx="1439.9" cy="58.8" r="4"/>
<circle cx="1441.0" cy="58.3" r="4"/>
<circle cx="1442.1" cy="59.5" r="4"/>
<circle cx="1443.2" cy="59.1" r="4"/>
<circle cx="1444.3" cy="59.2" r="4"/>
<circle cx="1445.4" cy="58.6" r="4"/>
<circle cx="1446.5" cy="60.4" r="4"/>
<circle cx="1447.6" cy="60.1" r="4"/>
<circle cx="1448.7" cy="60.9" r="4"/>
<circle cx="1449.7" cy="61.8" r="4"/>
<circle cx="1450.8" cy="60.3" r="4"/>
<circle cx="1451.9" cy="59.8" r="4"/>
<circle cx="1453.0" cy="61.3" r="4"/>
<circle cx="1454.1" cy="57.6" r="4"/>
<circle cx="1455.2" cy="60.2" r="4"/>
<circle cx="1456.3" cy="57.6" r="4"/>
<circle cx="1457.4" cy="57.6" r="4"/>
<circle cx="1458.5" cy="60.1" r="4"/>
<circle cx="1459.6" cy="57.6" r="4"/>
<circle cx="1460.7" cy="59.6" r="4"/>
<circle cx="1461.8" cy="57.6" r="4"/>
<circle cx="1462.9" cy="56.7" r="4"/>
<circle cx="1463.9" cy="55.3" r="4"/>
<circle cx="1465.0" cy="56.9" r="4"/>
<circle cx="1466.1" cy="60.2" r="4"/>
<circle cx="1467.2" cy="58.5" r="4"/>
<circle cx="1468.3" cy="55.7" r="4"/>
<circle cx="1469.4" cy="57.1" r="4"/>
<circle cx="1470.5" cy="54.5" r="4"/>
<circle cx="1471.6" cy="57.5" r="4"/>
<circle cx="1472.7" cy="56.9" r="4"/>
<circle cx="1473.8" cy="57.7" r="4"/>
<circle cx="1474.9" cy="56.4" r="4"/>
<circle cx="1476.0" cy="54.3" r="4"/>
<circle cx="1477.0" cy="57.5" r="4"/>
<circle cx="1478.1" cy="55.2" r="4"/>
<circle cx="1479.2" cy="55.9" r="4"/>
<circle cx="1480.3" cy="55.6" r="4"/>
<circle cx="1481.4" cy="57.1" r="4"/>
<circle cx="1482.5" cy="56.7" r="4"/>
<circle cx="1483.6" cy="53.7" r="4"/>
<circle cx="1484.7" cy="58.2" r="4"/>
<circle cx="1485.8" cy="55.1" r="4"/>
<circle cx="1486.9" cy="53.8" r="4"/>
<circle cx="1488.0" cy="55.1" r="4"/>
<circle cx="1489.1" cy="53.3" r="4"/>
<circle cx="1490.2" cy="59.8" r="4"/>
<circle cx="1491.2" cy="56.1" r="4"/>
<circle cx="1492.3" cy="57.3" r="4"/>
<circle cx="1493.4" cy="56.2" r="4"/>
<circle cx="1494.5" cy="55.5" r="4"/>
<circle cx="1495.6" cy="54.3" r="4"/>
<circle cx="1496.7" cy="55.8" r="4"/>
<circle cx="1497.8" cy="53.1" r="4"/>
<circle cx="1498.9" cy="56.4" r="4"/>
<circle cx="1500.0" cy="52.9" r="4"/>
<circle cx="1501.1" cy="54.7" r="4"/>
<circle cx="1502.2" cy="56.8" r="4"/>
<circle cx="1503.3" cy="56.8" r="4"/>
<circle cx="1504.3" cy="56.7" r="4"/>
<circle cx="1505.4" cy="55.4" r="4"/>
<circle cx="1506.5" cy="53.7" r="4"/>
<circle cx="1507.6" cy="51.9" r="4"/>
<circle cx="1508.7" cy="52.7" r="4"/>
<circle cx="1509.8" cy="55.7" r="4"/>
<circle cx="1510.9" cy="57.1" r="4"/>
<circle cx="1512.0" cy="54.4" r="4"/>
<circle cx="1513.1" cy="56.0" r="4"/>
<circle cx="1514.2" cy="54.2" r="4"/>
<circle cx="1515.3" cy="54.9" r="4"/>
<circle cx="1516.4" cy="50.5" r="4"/>
<circle cx="1517.5" cy="56.5" r="4"/>
<circle cx="1518.5" cy="53.9" r="4"/>
<circle cx="1519.6" cy="52.0" r="4"/>
<circle cx="1520.7" cy="55.5" r="4"/>
<circle cx="1521.8" cy="56.3" r="4"/>
<circle cx="1522.9" cy="53.2" r="4"/>
<circle cx="1524.0" cy="58.7" r="4"/>
<circle cx="1525.1" cy="58.3" r="4"/>
<circle cx="1526.2" cy="57.6" r="4"/>
<circle cx="1527.3" cy="55.3" r="4"/>
<circle cx="1528.4" cy="54.6" r="4"/>
<circle cx="1529.5" cy="55.5" r="4"/>
<circle cx="1530.6" cy="52.0" r="4"/>
<circle cx="1531.6" cy="55.1" r="4"/>
<circle cx="1532.7" cy="54.6" r="4"/>
<circle cx="1533.8" cy="55.0" r="4"/>
<circle cx="1534.9" cy="53.0" r="4"/>
<circle cx="1536.0" cy="54.7" r="4"/>
<circle cx="1537.1" cy="55.2" r="4"/>
<circle cx="1538.2" cy="52.2" r="4"/>
<circle cx="1539.3" cy="52.5" r="4"/>
<circle cx="1540.4" cy="52.7" r="4"/>
<circle cx="1541.5" cy="55.8" r="4"/>
<circle cx="1542.6" cy="55.5" r="4"/>
<circle cx="1543.7" cy="54.5" r="4"/>
<circle cx="1544.8" cy="54.7" r="4"/>
<circle cx="1545.8" cy="55.1" r="4"/>
<circle cx="1546.9" cy="55.0" r="4"/>
<circle cx="1548.0" cy="54.0" r="4"/>
<circle cx="1549.1" cy="56.6" r="4"/>
<circle cx="1550.2" cy="55.1" r="4"/>
<circle cx="1551.3" cy="56.1" r="4"/>
<circle cx="1552.4" cy="56.1" r="4"/>
<circle cx="1553.5" cy="55.6" r="4"/>
<circle cx="1554.6" cy="53.7" r="4"/>
<circle cx="1555.7" cy="53.8" r="4"/>
<circle cx="1556.8" cy="54.7" r="4"/>
<circle cx="1557.9" cy="52.6" r="4"/>
<circle cx="1558.9" cy="52.4" r="4"/>
<circle cx="1560.0" cy="51.6" r="4"/>
<circle cx="1561.1" cy="52.4" r="4"/>
<circle cx="1562.2" cy="50.5" r="4"/>
<circle cx="1563.3" cy="51.3" r="4"/>
<circle cx="1564.4" cy="53.5" r="4"/>
<circle cx="1565.5" cy="53.6" r="4"/>
<circle cx="1566.6" cy="53.6" r="4"/>
<circle cx="1567.7" cy="50.9" r="4"/>
<circle cx="1568.8" cy="52.1" r="4"/>
<circle cx="1569.9" cy="51.4" r="4"/>
<circle cx="1571.0" cy="50.8" r="4"/>
<circle cx="1572.1" cy="49.1" r="4"/>
<circle cx="1573.1" cy="48.1" r="4"/>
<circle cx="1574.2" cy="51.7" r="4"/>
<circle cx="1575.3" cy="49.2" r="4"/>
<circle cx="1576.4" cy="51.6" r="4"/>
<circle cx="1577.5" cy="51.0" r="4"/>
<circle cx="1578.6" cy="53.2" r="4"/>
<circle cx="1579.7" cy="54.6" r="4"/>
<circle cx="1580.8" cy="52.3" r="4"/>
<circle cx="1581.9" cy="51.3" r="4"/>
<circle cx="1583.0" cy="55.3" r="4"/>
<circle cx="1584.1" cy="53.3" r="4"/>
<circle cx="1585.2" cy="52.9" r="4"/>
<circle cx="1586.2" cy="52.4" r="4"/>
<circle cx="1587.3" cy="54.8" r="4"/>
<circle cx="1588.4" cy="53.9" r="4"/>
<circle cx="1589.5" cy="51.6" r="4"/>
<circle cx="1590.6" cy="49.9" r="4"/>
<circle cx="1591.7" cy="51.8" r="4"/>
<circle cx="1592.8" cy="50.2" r="4"/>
<circle cx="1593.9" cy="51.1" r="4"/>
<circle cx="1595.0" cy="50.7" r="4"/>
<circle cx="1596.1" cy="52.1" r="4"/>
<circle cx="1597.2" cy="52.2" r="4"/>
<circle cx="1598.3" cy="52.9" r="4"/>
<circle cx="1599.4" cy="52.1" r="4"/>
<circle cx="1600.4" cy="50.6" r="4"/>
<circle cx="1601.5" cy="51.7" r="4"/>
<circle cx="1602.6" cy="50.9" r="4"/>
<circle cx="1603.7" cy="52.6" r="4"/>
<circle cx="1604.8" cy="50.7" r="4"/>
<circle cx="1605.9" cy="56.1" r="4"/>
<circle cx="1607.0" cy="53.6" r="4"/>
<circle cx="1608.1" cy="51.8" r="4"/>
<circle cx="1609.2" cy="53.4" r="4"/>
<circle cx="1610.3" cy="49.6" r="4"/>
<circle cx="1611.4" cy="49.6" r="4"/>
<circle cx="1612.5" cy="50.9" r="4"/>
<circle cx="1613.5" cy="49.4" r="4"/>
<circle cx="1614.6" cy="51.9" r="4"/>
<circle cx="1615.7" cy="51.5" r="4"/>
<circle cx="1616.8" cy="51.2" r="4"/>
<circle cx="1617.9" cy="53.1" r="4"/>
<circle cx="1619.0" cy="49.5" r="4"/>
<circle cx="1620.1" cy="51.8" r="4"/>
<circle cx="1621.2" cy="49.4" r="4"/>
<circle cx="1622.3" cy="50.9" r="4"/>
<circle cx="1623.4" cy="50.2" r="4"/>
<circle cx="1624.5" cy="52.0" r="4"/>
<circle cx="1625.6" cy="51.2" r="4"/>
<circle cx="1626.7" cy="51.5" r="4"/>
<circle cx="1627.7" cy="50.6" r="4"/>
<circle cx="1628.8" cy="49.0" r="4"/>
<circle cx="1629.9" cy="51.6" r="4"/>
<circle cx="1631.0" cy="51.0" r="4"/>
<circle cx="1632.1" cy="50.1" r="4"/>
<circle cx="1633.2" cy="49.2" r="4"/>
<circle cx="1634.3" cy="50.2" r="4"/>
<circle cx="1635.4" cy="50.2" r="4"/>
<circle cx="1636.5" cy="50.1" r="4"/>
<circle cx="1637.6" cy="48.9" r="4"/>
<circle cx="1638.7" cy="48.3" r="4"/>
<circle cx="1639.8" cy="49.4" r="4"/>
<circle cx="1640.8" cy="48.9" r="4"/>
<circle cx="1641.9" cy="47.6" r="4"/>
<circle cx="1643.0" cy="49.1" r="4"/>
<circle cx="1644.1" cy="50.3" r="4"/>
<circle cx="1645.2" cy="49.0" r="4"/>
<circle cx="1646.3" cy="49.4" r="4"/>
<circle cx="1647.4" cy="49.8" r="4"/>
<circle cx="1648.5" cy="49.8" r="4"/>
<circle cx="1649.6" cy="51.0" r="4"/>
<circle cx="1650.7" cy="49.7" r="4"/>
<circle cx="1651.8" cy="48.9" r="4"/>
<circle cx="1652.9" cy="48.6" r="4"/>
<circle cx="1654.0" cy="50.7" r="4"/>
<circle cx="1655.0" cy="48.0" r="4"/>
<circle cx="1656.1" cy="47.4" r="4"/>
<circle cx="1657.2" cy="47.3" r="4"/>
<circle cx="1658.3" cy="48.6" r="4"/>
<circle cx="1659.4" cy="48.5" r="4"/>
<circle cx="1660.5" cy="51.5" r="4"/>
<circle cx="1661.6" cy="51.6" r="4"/>
<circle cx="1662.7" cy="54.2" r="4"/>
<circle cx="1663.8" cy="50.8" r="4"/>
<circle cx="1664.9" cy="48.6" r="4"/>
<circle cx="1666.0" cy="48.4" r="4"/>
<circle cx="1667.1" cy="52.1" r="4"/>
<circle cx="1668.1" cy="49.2" r="4"/>
<circle cx="1669.2" cy="48.0" r="4"/>
<circle cx="1670.3" cy="49.9" r="4"/>
<circle cx="1671.4" cy="52.2" r="4"/>
<circle cx="1672.5" cy="47.7" r="4"/>
<circle cx="1673.6" cy="50.5" r="4"/>
<circle cx="1674.7" cy="50.9" r="4"/>
<circle cx="1675.8" cy="48.3" r="4"/>
<circle cx="1676.9" cy="50.2" r="4"/>
<circle cx="1678.0" cy="49.6" r="4"/>
<circle cx="1679.1" cy="48.5" r="4"/>
<circle cx="1680.2" cy="50.8" r="4"/>
<circle cx="1681.3" cy="51.7" r="4"/>
<circle cx="1682.3" cy="49.1" r="4"/>
<circle cx="1683.4" cy="50.0" r="4"/>
<circle cx="1684.5" cy="48.8" r="4"/>
<circle cx="1685.6" cy="49.1" r="4"/>
<circle cx="1686.7" cy="50.4" r="4"/>
<circle cx="1687.8" cy="49.1" r="4"/>
<circle cx="1688.9" cy="49.4" r="4"/>
<circle cx="1690.0" cy="49.0" r="4"/>
<circle cx="1691.1" cy="48.5" r="4"/>
<circle cx="1692.2" cy="47.7" r="4"/>
<circle cx="1693.3" cy="47.6" r="4"/>
<circle cx="1694.4" cy="49.3" r="4"/>
<circle cx="1695.4" cy="46.3" r="4"/>
<circle cx="1696.5" cy="48.8" r="4"/>
<circle cx="1697.6" cy="43.5" r="4"/>
<circle cx="1698.7" cy="47.5" r="4"/>
<circle cx="1699.8" cy="46.7" r="4"/>
<circle cx="1700.9" cy="45.0" r="4"/>
<circle cx="1702.0" cy="47.6" r="4"/>
<circle cx="1703.1" cy="49.6" r="4"/>
<circle cx="1704.2" cy="50.4" r="4"/>
<circle cx="1705.3" cy="48.6" r="4"/>
<circle cx="1706.4" cy="49.0" r="4"/>
<circle cx="1707.5" cy="48.8" r="4"/>
<circle cx="1708.6" cy="49.9" r="4"/>
<circle cx="1709.6" cy="51.1" r="4"/>
<circle cx="1710.7" cy="49.7" r="4"/>
<circle cx="1711.8" cy="48.1" r="4"/>
<circle cx="1712.9" cy="50.7" r="4"/>
<circle cx="1714.0" cy="44.2" r="4"/>
<circle cx="1715.1" cy="49.3" r="4"/>
<circle cx="1716.2" cy="46.7" r="4"/>
<circle cx="1717.3" cy="45.6" r="4"/>
<circle cx="1718.4" cy="47.0" r="4"/>
<circle cx="1719.5" cy="48.0" r="4"/>
<circle cx="1720.6" cy="47.6" r="4"/>
<circle cx="1721.7" cy="47.0" r="4"/>
<circle cx="1722.7" cy="52.8" r="4"/>
<circle cx="1723.8" cy="48.8" r="4"/>
<circle cx="1724.9" cy="50.2" r="4"/>
<circle cx="1726.0" cy="50.8" r="4"/>
<circle cx="1727.1" cy="49.8" r="4"/>
</g><g fill="#f9802e">
<circle cx="999.6" cy="52.4" r="4" fill="#f2652c"/>
<circle cx="1001.5" cy="271.2" r="4" fill="#f2652c"/>
<circle cx="1004.7" cy="315.8" r="4" fill="#f2652c"/>
<circle cx="1007.1" cy="326.8" r="4" fill="#f2652c"/>
<circle cx="1009.3" cy="372.3" r="4" fill="#f2652c"/>
<circle cx="1012.5" cy="381.0" r="4" fill="#f2652c"/>
<circle cx="1015.6" cy="396.2" r="4" fill="#f2652c"/>
<circle cx="1017.8" cy="401.7" r="4" fill="#f2652c"/>
<circle cx="1020.0" cy="407.2" r="4" fill="#f2652c"/>
<circle cx="1021.4" cy="438.0" r="4" fill="#f2652c"/>
<circle cx="1022.7" cy="430.8" r="4" fill="#f2652c"/>
<circle cx="1023.9" cy="423.1" r="4" fill="#f2652c"/>
<circle cx="1025.1" cy="423.6" r="4" fill="#f2652c"/>
<circle cx="1026.3" cy="419.7" r="4" fill="#f2652c"/>
<circle cx="1027.5" cy="431.2" r="4" fill="#f2652c"/>
<circle cx="1028.7" cy="422.7" r="4" fill="#f2652c"/>
<circle cx="1029.9" cy="424.1" r="4" fill="#f2652c"/>
<circle cx="1031.1" cy="426.7" r="4" fill="#f2652c"/>
<circle cx="1032.4" cy="419.0" r="4" fill="#f2652c"/>
<circle cx="1033.6" cy="418.6" r="4" fill="#f2652c"/>
<circle cx="1034.8" cy="426.8" r="4" fill="#f2652c"/>
<circle cx="1036.0" cy="420.5" r="4" fill="#f2652c"/>
<circle cx="1037.2" cy="438.5" r="4" fill="#f2652c"/>
<circle cx="1038.4" cy="435.5" r="4" fill="#f2652c"/>
<circle cx="1039.6" cy="437.2" r="4" fill="#f2652c"/>
<circle cx="1040.9" cy="432.8" r="4" fill="#f2652c"/>
<circle cx="1042.1" cy="435.0" r="4" fill="#f2652c"/>
<circle cx="1043.3" cy="428.1" r="4" fill="#f2652c"/>
<circle cx="1044.5" cy="428.2" r="4" fill="#f2652c"/>
<circle cx="1045.7" cy="422.9" r="4" fill="#f2652c"/>
<circle cx="1046.9" cy="433.8" r="4" fill="#f2652c"/>
<circle cx="1048.1" cy="430.6" r="4" fill="#f2652c"/>
<circle cx="1049.3" cy="434.1" r="4" fill="#f2652c"/>
<circle cx="1050.6" cy="440.3" r="4" fill="#f2652c"/>
<circle cx="1051.8" cy="417.8" r="4" fill="#f2652c"/>
<circle cx="1053.0" cy="432.8" r="4" fill="#f2652c"/>
<circle cx="1054.2" cy="440.7" r="4" fill="#f2652c"/>
<circle cx="1055.4" cy="423.5" r="4" fill="#f2652c"/>
<circle cx="1056.6" cy="433.0" r="4" fill="#f2652c"/>
<circle cx="1057.8" cy="419.3" r="4" fill="#f2652c"/>
<circle cx="1059.1" cy="412.1" r="4" fill="#f2652c"/>
<circle cx="1060.3" cy="418.4" r="4" fill="#f2652c"/>
<circle cx="1061.5" cy="417.8" r="4" fill="#f2652c"/>
<circle cx="1062.7" cy="421.6" r="4" fill="#f2652c"/>
<circle cx="1063.9" cy="424.0" r="4" fill="#f2652c"/>
<circle cx="1065.1" cy="437.0" r="4" fill="#f2652c"/>
<circle cx="1066.3" cy="438.5" r="4" fill="#f2652c"/>
<circle cx="1067.5" cy="433.3" r="4" fill="#f2652c"/>
<circle cx="1068.8" cy="423.6" r="4" fill="#f2652c"/>
<circle cx="1070.0" cy="420.5" r="4" fill="#f2652c"/>
<circle cx="1071.2" cy="410.2" r="4" fill="#f2652c"/>
<circle cx="1072.4" cy="414.7" r="4" fill="#f2652c"/>
<circle cx="1073.6" cy="422.5" r="4" fill="#f2652c"/>
<circle cx="1074.8" cy="422.7" r="4" fill="#f2652c"/>
<circle cx="1076.0" cy="435.4" r="4" fill="#f2652c"/>
<circle cx="1077.3" cy="430.5" r="4" fill="#f2652c"/>
<circle cx="1078.5" cy="430.0" r="4" fill="#f2652c"/>
<circle cx="1079.7" cy="420.6" r="4" fill="#f2652c"/>
<circle cx="1080.9" cy="417.0" r="4" fill="#f2652c"/>
<circle cx="1082.1" cy="423.6" r="4" fill="#f2652c"/>
<circle cx="1083.3" cy="423.4" r="4" fill="#f2652c"/>
<circle cx="1084.5" cy="427.2" r="4" fill="#f2652c"/>
<circle cx="1085.7" cy="417.8" r="4" fill="#f2652c"/>
<circle cx="1087.0" cy="415.6" r="4" fill="#f2652c"/>
<circle cx="1088.2" cy="415.9" r="4" fill="#f2652c"/>
<circle cx="1089.4" cy="425.1" r="4" fill="#f2652c"/>
<circle cx="1090.6" cy="412.5" r="4" fill="#f2652c"/>
<circle cx="1091.8" cy="418.7" r="4" fill="#f2652c"/>
<circle cx="1093.0" cy="426.5" r="4" fill="#f2652c"/>
<circle cx="1094.2" cy="428.8" r="4" fill="#f2652c"/>
<circle cx="1095.5" cy="427.2" r="4" fill="#f2652c"/>
<circle cx="1096.7" cy="424.0" r="4" fill="#f2652c"/>
<circle cx="1097.9" cy="424.3" r="4" fill="#f2652c"/>
<circle cx="1099.1" cy="420.8" r="4" fill="#f2652c"/>
<circle cx="1100.3" cy="419.8" r="4" fill="#f2652c"/>
<circle cx="1101.5" cy="420.5" r="4" fill="#f2652c"/>
<circle cx="1102.7" cy="427.5" r="4" fill="#f2652c"/>
<circle cx="1103.9" cy="438.2" r="4" fill="#f2652c"/>
<circle cx="1105.2" cy="435.1" r="4" fill="#f2652c"/>
<circle cx="1106.4" cy="436.6" r="4" fill="#f2652c"/>
<circle cx="1107.6" cy="435.0" r="4" fill="#f2652c"/>
<circle cx="1108.8" cy="419.1" r="4" fill="#f2652c"/>
<circle cx="1110.0" cy="430.5" r="4" fill="#f2652c"/>
<circle cx="1111.2" cy="415.6" r="4" fill="#f2652c"/>
<circle cx="1112.4" cy="427.6" r="4" fill="#f2652c"/>
<circle cx="1113.7" cy="423.6" r="4" fill="#f2652c"/>
<circle cx="1114.9" cy="417.8" r="4" fill="#f2652c"/>
<circle cx="1116.1" cy="421.2" r="4" fill="#f2652c"/>
<circle cx="1117.3" cy="417.3" r="4" fill="#f2652c"/>
<circle cx="1118.5" cy="422.0" r="4" fill="#f2652c"/>
<circle cx="1119.7" cy="425.7" r="4" fill="#f2652c"/>
<circle cx="1120.9" cy="426.6" r="4" fill="#f2652c"/>
<circle cx="1122.1" cy="428.7" r="4" fill="#f2652c"/>
<circle cx="1123.4" cy="417.0" r="4" fill="#f2652c"/>
<circle cx="1124.6" cy="430.5" r="4" fill="#f2652c"/>
<circle cx="1125.8" cy="424.4" r="4" fill="#f2652c"/>
<circle cx="1127.0" cy="451.2" r="4" fill="#f2652c"/>
<circle cx="1128.2" cy="437.2" r="4" fill="#f2652c"/>
<circle cx="1129.4" cy="435.2" r="4" fill="#f2652c"/>
<circle cx="1130.6" cy="441.1" r="4" fill="#f2652c"/>
<circle cx="1131.9" cy="433.5" r="4" fill="#f2652c"/>
<circle cx="1133.1" cy="434.4" r="4" fill="#f2652c"/>
<circle cx="1134.3" cy="436.8" r="4" fill="#f2652c"/>
<circle cx="1135.5" cy="429.8" r="4" fill="#f2652c"/>
<circle cx="1136.7" cy="413.3" r="4" fill="#f2652c"/>
<circle cx="1137.9" cy="424.8" r="4" fill="#f2652c"/>
<circle cx="1139.1" cy="423.5" r="4" fill="#f2652c"/>
<circle cx="1140.3" cy="427.2" r="4" fill="#f2652c"/>
<circle cx="1140.6" cy="419.5" r="4" fill="#f2652c"/>
<circle cx="1143.0" cy="425.0" r="4"/>
<circle cx="1145.4" cy="422.0" r="4"/>
<circle cx="1147.9" cy="406.7" r="4"/>
<circle cx="1150.3" cy="389.0" r="4"/>
<circle cx="1152.7" cy="365.5" r="4"/>
<circle cx="1155.1" cy="315.9" r="4"/>
<circle cx="1157.6" cy="279.3" r="4"/>
<circle cx="1160.0" cy="262.1" r="4"/>
<circle cx="1162.4" cy="258.0" r="4"/>
<circle cx="1164.9" cy="226.5" r="4"/>
<circle cx="1167.3" cy="221.6" r="4"/>
<circle cx="1169.7" cy="216.7" r="4"/>
<circle cx="1172.1" cy="213.6" r="4"/>
<circle cx="1174.6" cy="205.1" r="4"/>
<circle cx="1177.0" cy="195.9" r="4"/>
<circle cx="1179.4" cy="191.2" r="4"/>
<circle cx="1181.8" cy="183.8" r="4"/>
<circle cx="1184.3" cy="176.4" r="4"/>
<circle cx="1186.7" cy="173.0" r="4"/>
<circle cx="1189.1" cy="170.1" r="4"/>
<circle cx="1191.5" cy="161.9" r="4"/>
<circle cx="1194.0" cy="156.5" r="4"/>
<circle cx="1196.4" cy="157.4" r="4"/>
<circle cx="1198.8" cy="155.5" r="4"/>
<circle cx="1201.3" cy="152.9" r="4"/>
<circle cx="1203.7" cy="148.4" r="4"/>
<circle cx="1206.1" cy="145.7" r="4"/>
<circle cx="1208.5" cy="143.0" r="4"/>
<circle cx="1211.0" cy="143.2" r="4"/>
<circle cx="1213.4" cy="136.3" r="4"/>
<circle cx="1215.8" cy="134.9" r="4"/>
<circle cx="1218.2" cy="132.5" r="4"/>
<circle cx="1220.7" cy="131.7" r="4"/>
<circle cx="1223.1" cy="129.0" r="4"/>
<circle cx="1225.5" cy="127.0" r="4"/>
<circle cx="1227.9" cy="124.3" r="4"/>
<circle cx="1230.4" cy="122.9" r="4"/>
<circle cx="1232.8" cy="123.4" r="4"/>
<circle cx="1235.2" cy="122.2" r="4"/>
<circle cx="1237.7" cy="125.3" r="4"/>
<circle cx="1240.1" cy="119.2" r="4"/>
<circle cx="1242.3" cy="118.3" r="4"/>
<circle cx="1243.4" cy="118.6" r="4"/>
<circle cx="1244.5" cy="122.5" r="4"/>
<circle cx="1245.5" cy="120.6" r="4"/>
<circle cx="1246.6" cy="123.3" r="4"/>
<circle cx="1247.7" cy="128.4" r="4"/>
<circle cx="1248.8" cy="125.4" r="4"/>
<circle cx="1249.9" cy="130.0" r="4"/>
<circle cx="1251.0" cy="129.1" r="4"/>
<circle cx="1252.1" cy="116.9" r="4"/>
<circle cx="1253.2" cy="114.3" r="4"/>
<circle cx="1254.3" cy="110.9" r="4"/>
<circle cx="1255.4" cy="114.9" r="4"/>
<circle cx="1256.5" cy="112.2" r="4"/>
<circle cx="1257.6" cy="109.7" r="4"/>
<circle cx="1258.6" cy="113.4" r="4"/>
<circle cx="1259.7" cy="120.5" r="4"/>
<circle cx="1260.8" cy="102.8" r="4"/>
<circle cx="1261.9" cy="106.4" r="4"/>
<circle cx="1263.0" cy="105.2" r="4"/>
<circle cx="1264.1" cy="108.8" r="4"/>
<circle cx="1265.2" cy="111.5" r="4"/>
<circle cx="1266.3" cy="107.2" r="4"/>
<circle cx="1267.4" cy="105.7" r="4"/>
<circle cx="1268.5" cy="111.9" r="4"/>
<circle cx="1269.6" cy="107.6" r="4"/>
<circle cx="1270.7" cy="102.8" r="4"/>
<circle cx="1271.8" cy="98.7" r="4"/>
<circle cx="1272.8" cy="102.7" r="4"/>
<circle cx="1273.9" cy="107.8" r="4"/>
<circle cx="1275.0" cy="113.0" r="4"/>
<circle cx="1276.1" cy="101.1" r="4"/>
<circle cx="1277.2" cy="110.6" r="4"/>
<circle cx="1278.3" cy="108.7" r="4"/>
<circle cx="1279.4" cy="111.2" r="4"/>
<circle cx="1280.5" cy="115.0" r="4"/>
<circle cx="1281.6" cy="98.0" r="4"/>
<circle cx="1282.7" cy="101.9" r="4"/>
<circle cx="1283.8" cy="98.5" r="4"/>
<circle cx="1284.9" cy="107.1" r="4"/>
<circle cx="1285.9" cy="105.4" r="4"/>
<circle cx="1287.0" cy="101.3" r="4"/>
<circle cx="1288.1" cy="109.4" r="4"/>
<circle cx="1289.2" cy="110.8" r="4"/>
<circle cx="1290.3" cy="111.6" r="4"/>
<circle cx="1291.4" cy="111.5" r="4"/>
<circle cx="1292.5" cy="101.4" r="4"/>
<circle cx="1293.6" cy="104.2" r="4"/>
<circle cx="1294.7" cy="110.7" r="4"/>
<circle cx="1295.8" cy="96.5" r="4"/>
<circle cx="1296.9" cy="97.5" r="4"/>
<circle cx="1298.0" cy="98.4" r="4"/>
<circle cx="1299.1" cy="111.5" r="4"/>
<circle cx="1300.1" cy="104.1" r="4"/>
<circle cx="1301.2" cy="99.4" r="4"/>
<circle cx="1302.3" cy="108.9" r="4"/>
<circle cx="1303.4" cy="107.6" r="4"/>
<circle cx="1304.5" cy="104.8" r="4"/>
<circle cx="1305.6" cy="111.5" r="4"/>
<circle cx="1306.7" cy="101.2" r="4"/>
<circle cx="1307.8" cy="96.9" r="4"/>
<circle cx="1308.9" cy="97.3" r="4"/>
<circle cx="1310.0" cy="93.3" r="4"/>
<circle cx="1311.1" cy="98.7" r="4"/>
<circle cx="1312.2" cy="98.7" r="4"/>
<circle cx="1313.2" cy="99.0" r="4"/>
<circle cx="1314.3" cy="101.0" r="4"/>
<circle cx="1315.4" cy="103.1" r="4"/>
<circle cx="1316.5" cy="102.5" r="4"/>
<circle cx="1317.6" cy="100.4" r="4"/>
<circle cx="1318.7" cy="102.5" r="4"/>
<circle cx="1319.8" cy="99.1" r="4"/>
<circle cx="1320.9" cy="97.6" r="4"/>
<circle cx="1322.0" cy="93.5" r="4"/>
<circle cx="1323.1" cy="96.9" r="4"/>
<circle cx="1324.2" cy="103.1" r="4"/>
<circle cx="1325.3" cy="99.4" r="4"/>
<circle cx="1326.4" cy="89.0" r="4"/>
<circle cx="1327.4" cy="95.0" r="4"/>
<circle cx="1328.5" cy="99.8" r="4"/>
<circle cx="1329.6" cy="98.3" r="4"/>
<circle cx="1330.7" cy="97.1" r="4"/>
<circle cx="1331.8" cy="98.9" r="4"/>
<circle cx="1332.9" cy="97.2" r="4"/>
<circle cx="1334.0" cy="96.7" r="4"/>
<circle cx="1335.1" cy="95.9" r="4"/>
<circle cx="1336.2" cy="103.1" r="4"/>
<circle cx="1337.3" cy="102.5" r="4"/>
<circle cx="1338.4" cy="101.1" r="4"/>
<circle cx="1339.5" cy="97.5" r="4"/>
<circle cx="1340.5" cy="91.6" r="4"/>
<circle cx="1341.6" cy="98.7" r="4"/>
<circle cx="1342.7" cy="86.7" r="4"/>
<circle cx="1343.8" cy="93.9" r="4"/>
<circle cx="1344.9" cy="91.3" r="4"/>
<circle cx="1346.0" cy="98.5" r="4"/>
<circle cx="1347.1" cy="94.8" r="4"/>
<circle cx="1348.2" cy="94.3" r="4"/>
<circle cx="1349.3" cy="91.9" r="4"/>
<circle cx="1350.4" cy="101.6" r="4"/>
<circle cx="1351.5" cy="92.8" r="4"/>
<circle cx="1352.6" cy="103.4" r="4"/>
<circle cx="1353.7" cy="95.7" r="4"/>
<circle cx="1354.7" cy="92.9" r="4"/>
<circle cx="1355.8" cy="96.8" r="4"/>
<circle cx="1356.9" cy="96.7" r="4"/>
<circle cx="1358.0" cy="96.0" r="4"/>
<circle cx="1359.1" cy="95.3" r="4"/>
<circle cx="1360.2" cy="92.3" r="4"/>
<circle cx="1361.3" cy="88.6" r="4"/>
<circle cx="1362.4" cy="88.7" r="4"/>
<circle cx="1363.5" cy="84.4" r="4"/>
<circle cx="1364.6" cy="89.8" r="4"/>
<circle cx="1365.7" cy="91.9" r="4"/>
<circle cx="1366.8" cy="90.9" r="4"/>
<circle cx="1367.8" cy="93.1" r="4"/>
<circle cx="1368.9" cy="89.4" r="4"/>
<circle cx="1370.0" cy="91.3" r="4"/>
<circle cx="1371.1" cy="83.1" r="4"/>
<circle cx="1372.2" cy="89.3" r="4"/>
<circle cx="1373.3" cy="83.6" r="4"/>
<circle cx="1374.4" cy="97.6" r="4"/>
<circle cx="1375.5" cy="87.0" r="4"/>
<circle cx="1376.6" cy="83.1" r="4"/>
<circle cx="1377.7" cy="86.1" r="4"/>
<circle cx="1378.8" cy="90.2" r="4"/>
<circle cx="1379.9" cy="89.1" r="4"/>
<circle cx="1381.0" cy="91.0" r="4"/>
<circle cx="1382.0" cy="92.4" r="4"/>
<circle cx="1383.1" cy="93.4" r="4"/>
<circle cx="1384.2" cy="92.2" r="4"/>
<circle cx="1385.3" cy="96.6" r="4"/>
<circle cx="1386.4" cy="96.8" r="4"/>
<circle cx="1387.5" cy="97.0" r="4"/>
<circle cx="1388.6" cy="93.0" r="4"/>
<circle cx="1389.7" cy="95.6" r="4"/>
<circle cx="1390.8" cy="89.0" r="4"/>
<circle cx="1391.9" cy="92.9" r="4"/>
<circle cx="1393.0" cy="88.9" r="4"/>
<circle cx="1394.1" cy="95.4" r="4"/>
<circle cx="1395.1" cy="93.2" r="4"/>
<circle cx="1396.2" cy="93.6" r="4"/>
<circle cx="1397.3" cy="97.1" r="4"/>
<circle cx="1398.4" cy="88.3" r="4"/>
<circle cx="1399.5" cy="90.3" r="4"/>
<circle cx="1400.6" cy="90.5" r="4"/>
<circle cx="1401.7" cy="84.7" r="4"/>
<circle cx="1402.8" cy="90.5" r="4"/>
<circle cx="1403.9" cy="88.8" r="4"/>
<circle cx="1405.0" cy="83.6" r="4"/>
<circle cx="1406.1" cy="77.8" r="4"/>
<circle cx="1407.2" cy="87.3" r="4"/>
<circle cx="1408.3" cy="80.8" r="4"/>
<circle cx="1409.3" cy="86.9" r="4"/>
<circle cx="1410.4" cy="91.4" r="4"/>
<circle cx="1411.5" cy="86.9" r="4"/>
<circle cx="1412.6" cy="84.6" r="4"/>
<circle cx="1413.7" cy="89.5" r="4"/>
<circle cx="1414.8" cy="88.7" r="4"/>
<circle cx="1415.9" cy="95.3" r="4"/>
<circle cx="1417.0" cy="100.2" r="4"/>
<circle cx="1418.1" cy="89.7" r="4"/>
<circle cx="1419.2" cy="96.3" r="4"/>
<circle cx="1420.3" cy="90.1" r="4"/>
<circle cx="1421.4" cy="92.0" r="4"/>
<circle cx="1422.4" cy="88.1" r="4"/>
<circle cx="1423.5" cy="84.9" r="4"/>
<circle cx="1424.6" cy="95.3" r="4"/>
<circle cx="1425.7" cy="89.2" r="4"/>
<circle cx="1426.8" cy="89.7" r="4"/>
<circle cx="1427.9" cy="84.3" r="4"/>
<circle cx="1429.0" cy="90.5" r="4"/>
<circle cx="1430.1" cy="95.1" r="4"/>
<circle cx="1431.2" cy="94.9" r="4"/>
<circle cx="1432.3" cy="85.3" r="4"/>
<circle cx="1433.4" cy="95.9" r="4"/>
<circle cx="1434.5" cy="91.1" r="4"/>
<circle cx="1435.6" cy="89.0" r="4"/>
<circle cx="1436.6" cy="93.8" r="4"/>
<circle cx="1437.7" cy="92.0" r="4"/>
<circle cx="1438.8" cy="96.5" r="4"/>
<circle cx="1439.9" cy="91.6" r="4"/>
<circle cx="1441.0" cy="84.4" r="4"/>
<circle cx="1442.1" cy="85.3" r="4"/>
<circle cx="1443.2" cy="93.3" r="4"/>
<circle cx="1444.3" cy="79.8" r="4"/>
<circle cx="1445.4" cy="92.5" r="4"/>
<circle cx="1446.5" cy="92.9" r="4"/>
<circle cx="1447.6" cy="84.4" r="4"/>
<circle cx="1448.7" cy="90.4" r="4"/>
<circle cx="1449.7" cy="92.8" r="4"/>
<circle cx="1450.8" cy="85.4" r="4"/>
<circle cx="1451.9" cy="90.1" r="4"/>
<circle cx="1453.0" cy="86.5" r="4"/>
<circle cx="1454.1" cy="88.8" r="4"/>
<circle cx="1455.2" cy="85.7" r="4"/>
<circle cx="1456.3" cy="84.1" r="4"/>
<circle cx="1457.4" cy="77.2" r="4"/>
<circle cx="1458.5" cy="82.4" r="4"/>
<circle cx="1459.6" cy="79.7" r="4"/>
<circle cx="1460.7" cy="88.3" r="4"/>
<circle cx="1461.8" cy="88.0" r="4"/>
<circle cx="1462.9" cy="80.0" r="4"/>
<circle cx="1463.9" cy="86.5" r="4"/>
<circle cx="1465.0" cy="87.9" r="4"/>
<circle cx="1466.1" cy="85.0" r="4"/>
<circle cx="1467.2" cy="89.3" r="4"/>
<circle cx="1468.3" cy="87.4" r="4"/>
<circle cx="1469.4" cy="88.4" r="4"/>
<circle cx="1470.5" cy="94.5" r="4"/>
<circle cx="1471.6" cy="82.1" r="4"/>
<circle cx="1472.7" cy="76.9" r="4"/>
<circle cx="1473.8" cy="77.5" r="4"/>
<circle cx="1474.9" cy="82.7" r="4"/>
<circle cx="1476.0" cy="83.5" r="4"/>
<circle cx="1477.0" cy="85.1" r="4"/>
<circle cx="1478.1" cy="82.4" r="4"/>
<circle cx="1479.2" cy="85.1" r="4"/>
<circle cx="1480.3" cy="91.9" r="4"/>
<circle cx="1481.4" cy="90.7" r="4"/>
<circle cx="1482.5" cy="90.0" r="4"/>
<circle cx="1483.6" cy="90.7" r="4"/>
<circle cx="1484.7" cy="90.1" r="4"/>
<circle cx="1485.8" cy="87.0" r="4"/>
<circle cx="1486.9" cy="94.6" r="4"/>
<circle cx="1488.0" cy="81.0" r="4"/>
<circle cx="1489.1" cy="82.7" r="4"/>
<circle cx="1490.2" cy="85.5" r="4"/>
<circle cx="1491.2" cy="81.9" r="4"/>
<circle cx="1492.3" cy="85.1" r="4"/>
<circle cx="1493.4" cy="77.4" r="4"/>
<circle cx="1494.5" cy="86.6" r="4"/>
<circle cx="1495.6" cy="81.2" r="4"/>
<circle cx="1496.7" cy="79.7" r="4"/>
<circle cx="1497.8" cy="84.6" r="4"/>
<circle cx="1498.9" cy="87.1" r="4"/>
<circle cx="1500.0" cy="82.0" r="4"/>
<circle cx="1501.1" cy="86.9" r="4"/>
<circle cx="1502.2" cy="90.5" r="4"/>
<circle cx="1503.3" cy="93.6" r="4"/>
<circle cx="1504.3" cy="85.9" r="4"/>
<circle cx="1505.4" cy="82.8" r="4"/>
<circle cx="1506.5" cy="91.4" r="4"/>
<circle cx="1507.6" cy="86.8" r="4"/>
<circle cx="1508.7" cy="83.2" r="4"/>
<circle cx="1509.8" cy="81.7" r="4"/>
<circle cx="1510.9" cy="86.6" r="4"/>
<circle cx="1512.0" cy="81.3" r="4"/>
<circle cx="1513.1" cy="80.7" r="4"/>
<circle cx="1514.2" cy="73.7" r="4"/>
<circle cx="1515.3" cy="83.9" r="4"/>
<circle cx="1516.4" cy="81.4" r="4"/>
<circle cx="1517.5" cy="83.0" r="4"/>
<circle cx="1518.5" cy="83.9" r="4"/>
<circle cx="1519.6" cy="89.7" r="4"/>
<circle cx="1520.7" cy="82.6" r="4"/>
<circle cx="1521.8" cy="75.7" r="4"/>
<circle cx="1522.9" cy="82.3" r="4"/>
<circle cx="1524.0" cy="80.3" r="4"/>
<circle cx="1525.1" cy="86.0" r="4"/>
<circle cx="1526.2" cy="83.3" r="4"/>
<circle cx="1527.3" cy="83.7" r="4"/>
<circle cx="1528.4" cy="81.7" r="4"/>
<circle cx="1529.5" cy="84.6" r="4"/>
<circle cx="1530.6" cy="83.1" r="4"/>
<circle cx="1531.6" cy="82.3" r="4"/>
<circle cx="1532.7" cy="78.4" r="4"/>
<circle cx="1533.8" cy="79.0" r="4"/>
<circle cx="1534.9" cy="71.2" r="4"/>
<circle cx="1536.0" cy="83.2" r="4"/>
<circle cx="1537.1" cy="77.9" r="4"/>
<circle cx="1538.2" cy="82.5" r="4"/>
<circle cx="1539.3" cy="82.1" r="4"/>
<circle cx="1540.4" cy="76.5" r="4"/>
<circle cx="1541.5" cy="80.6" r="4"/>
<circle cx="1542.6" cy="82.0" r="4"/>
<circle cx="1543.7" cy="91.0" r="4"/>
<circle cx="1544.8" cy="75.5" r="4"/>
<circle cx="1545.8" cy="76.8" r="4"/>
<circle cx="1546.9" cy="86.9" r="4"/>
<circle cx="1548.0" cy="88.7" r="4"/>
<circle cx="1549.1" cy="86.1" r="4"/>
<circle cx="1550.2" cy="82.4" r="4"/>
<circle cx="1551.3" cy="87.0" r="4"/>
<circle cx="1552.4" cy="81.4" r="4"/>
<circle cx="1553.5" cy="83.7" r="4"/>
<circle cx="1554.6" cy="68.9" r="4"/>
<circle cx="1555.7" cy="80.6" r="4"/>
<circle cx="1556.8" cy="82.2" r="4"/>
<circle cx="1557.9" cy="73.3" r="4"/>
<circle cx="1558.9" cy="80.9" r="4"/>
<circle cx="1560.0" cy="82.4" r="4"/>
<circle cx="1561.1" cy="82.3" r="4"/>
<circle cx="1562.2" cy="79.3" r="4"/>
<circle cx="1563.3" cy="82.7" r="4"/>
<circle cx="1564.4" cy="80.1" r="4"/>
<circle cx="1565.5" cy="82.6" r="4"/>
<circle cx="1566.6" cy="85.5" r="4"/>
<circle cx="1567.7" cy="81.0" r="4"/>
<circle cx="1568.8" cy="78.2" r="4"/>
<circle cx="1569.9" cy="71.5" r="4"/>
<circle cx="1571.0" cy="76.0" r="4"/>
<circle cx="1572.1" cy="77.5" r="4"/>
<circle cx="1573.1" cy="75.3" r="4"/>
<circle cx="1574.2" cy="73.7" r="4"/>
<circle cx="1575.3" cy="85.9" r="4"/>
<circle cx="1576.4" cy="79.4" r="4"/>
<circle cx="1577.5" cy="86.5" r="4"/>
<circle cx="1578.6" cy="84.5" r="4"/>
<circle cx="1579.7" cy="80.0" r="4"/>
<circle cx="1580.8" cy="77.1" r="4"/>
<circle cx="1581.9" cy="76.1" r="4"/>
<circle cx="1583.0" cy="75.3" r="4"/>
<circle cx="1584.1" cy="70.1" r="4"/>
<circle cx="1585.2" cy="73.2" r="4"/>
<circle cx="1586.2" cy="73.6" r="4"/>
<circle cx="1587.3" cy="76.9" r="4"/>
<circle cx="1588.4" cy="68.4" r="4"/>
<circle cx="1589.5" cy="71.2" r="4"/>
<circle cx="1590.6" cy="78.8" r="4"/>
<circle cx="1591.7" cy="78.6" r="4"/>
<circle cx="1592.8" cy="73.0" r="4"/>
<circle cx="1593.9" cy="71.9" r="4"/>
<circle cx="1595.0" cy="76.8" r="4"/>
<circle cx="1596.1" cy="70.8" r="4"/>
<circle cx="1597.2" cy="80.2" r="4"/>
<circle cx="1598.3" cy="76.7" r="4"/>
<circle cx="1599.4" cy="72.7" r="4"/>
<circle cx="1600.4" cy="79.3" r="4"/>
<circle cx="1601.5" cy="75.9" r="4"/>
<circle cx="1602.6" cy="75.8" r="4"/>
<circle cx="1603.7" cy="76.7" r="4"/>
<circle cx="1604.8" cy="84.1" r="4"/>
<circle cx="1605.9" cy="79.8" r="4"/>
<circle cx="1607.0" cy="80.0" r="4"/>
<circle cx="1608.1" cy="81.3" r="4"/>
<circle cx="1609.2" cy="79.3" r="4"/>
<circle cx="1610.3" cy="77.6" r="4"/>
<circle cx="1611.4" cy="81.3" r="4"/>
<circle cx="1612.5" cy="79.5" r="4"/>
<circle cx="1613.5" cy="71.2" r="4"/>
<circle cx="1614.6" cy="74.5" r="4"/>
<circle cx="1615.7" cy="78.6" r="4"/>
<circle cx="1616.8" cy="80.5" r="4"/>
<circle cx="1617.9" cy="76.1" r="4"/>
<circle cx="1619.0" cy="76.3" r="4"/>
<circle cx="1620.1" cy="80.6" r="4"/>
<circle cx="1621.2" cy="77.9" r="4"/>
<circle cx="1622.3" cy="79.1" r="4"/>
<circle cx="1623.4" cy="78.6" r="4"/>
<circle cx="1624.5" cy="70.0" r="4"/>
<circle cx="1625.6" cy="81.4" r="4"/>
<circle cx="1626.7" cy="72.1" r="4"/>
<circle cx="1627.7" cy="78.4" r="4"/>
<circle cx="1628.8" cy="76.5" r="4"/>
<circle cx="1629.9" cy="70.3" r="4"/>
<circle cx="1631.0" cy="79.6" r="4"/>
<circle cx="1632.1" cy="79.2" r="4"/>
<circle cx="1633.2" cy="81.2" r="4"/>
<circle cx="1634.3" cy="79.6" r="4"/>
<circle cx="1635.4" cy="75.8" r="4"/>
<circle cx="1636.5" cy="72.1" r="4"/>
<circle cx="1637.6" cy="79.5" r="4"/>
<circle cx="1638.7" cy="74.0" r="4"/>
<circle cx="1639.8" cy="83.5" r="4"/>
<circle cx="1640.8" cy="70.9" r="4"/>
<circle cx="1641.9" cy="81.8" r="4"/>
<circle cx="1643.0" cy="81.9" r="4"/>
<circle cx="1644.1" cy="78.5" r="4"/>
<circle cx="1645.2" cy="78.6" r="4"/>
<circle cx="1646.3" cy="79.2" r="4"/>
<circle cx="1647.4" cy="85.4" r="4"/>
<circle cx="1648.5" cy="75.8" r="4"/>
<circle cx="1649.6" cy="77.1" r="4"/>
<circle cx="1650.7" cy="81.9" r="4"/>
<circle cx="1651.8" cy="84.5" r="4"/>
<circle cx="1652.9" cy="77.3" r="4"/>
<circle cx="1654.0" cy="71.8" r="4"/>
<circle cx="1655.0" cy="81.5" r="4"/>
<circle cx="1656.1" cy="77.7" r="4"/>
<circle cx="1657.2" cy="72.0" r="4"/>
<circle cx="1658.3" cy="75.3" r="4"/>
<circle cx="1659.4" cy="73.8" r="4"/>
<circle cx="1660.5" cy="74.4" r="4"/>
<circle cx="1661.6" cy="73.5" r="4"/>
<circle cx="1662.7" cy="76.1" r="4"/>
<circle cx="1663.8" cy="76.4" r="4"/>
<circle cx="1664.9" cy="75.9" r="4"/>
<circle cx="1666.0" cy="80.0" r="4"/>
<circle cx="1667.1" cy="85.0" r="4"/>
<circle cx="1668.1" cy="73.1" r="4"/>
<circle cx="1669.2" cy="72.6" r="4"/>
<circle cx="1670.3" cy="73.0" r="4"/>
<circle cx="1671.4" cy="77.5" r="4"/>
<circle cx="1672.5" cy="66.8" r="4"/>
<circle cx="1673.6" cy="81.2" r="4"/>
<circle cx="1674.7" cy="71.1" r="4"/>
<circle cx="1675.8" cy="72.0" r="4"/>
<circle cx="1676.9" cy="71.3" r="4"/>
<circle cx="1678.0" cy="70.5" r="4"/>
<circle cx="1679.1" cy="75.6" r="4"/>
<circle cx="1680.2" cy="77.5" r="4"/>
<circle cx="1681.3" cy="80.5" r="4"/>
<circle cx="1682.3" cy="75.8" r="4"/>
<circle cx="1683.4" cy="76.6" r="4"/>
<circle cx="1684.5" cy="74.1" r="4"/>
<circle cx="1685.6" cy="81.3" r="4"/>
<circle cx="1686.7" cy="82.7" r="4"/>
<circle cx="1687.8" cy="76.9" r="4"/>
<circle cx="1688.9" cy="76.5" r="4"/>
<circle cx="1690.0" cy="86.4" r="4"/>
<circle cx="1691.1" cy="85.0" r="4"/>
<circle cx="1692.2" cy="81.8" r="4"/>
<circle cx="1693.3" cy="78.2" r="4"/>
<circle cx="1694.4" cy="77.7" r="4"/>
<circle cx="1695.4" cy="75.4" r="4"/>
<circle cx="1696.5" cy="80.4" r="4"/>
<circle cx="1697.6" cy="77.6" r="4"/>
<circle cx="1698.7" cy="73.4" r="4"/>
<circle cx="1699.8" cy="79.5" r="4"/>
<circle cx="1700.9" cy="70.1" r="4"/>
<circle cx="1702.0" cy="82.2" r="4"/>
<circle cx="1703.1" cy="81.4" r="4"/>
<circle cx="1704.2" cy="89.5" r="4"/>
<circle cx="1705.3" cy="80.8" r="4"/>
<circle cx="1706.4" cy="80.4" r="4"/>
<circle cx="1707.5" cy="78.9" r="4"/>
<circle cx="1708.6" cy="73.9" r="4"/>
<circle cx="1709.6" cy="79.3" r="4"/>
<circle cx="1710.7" cy="74.4" r="4"/>
<circle cx="1711.8" cy="84.5" r="4"/>
<circle cx="1712.9" cy="80.1" r="4"/>
<circle cx="1714.0" cy="74.5" r="4"/>
<circle cx="1715.1" cy="80.8" r="4"/>
<circle cx="1716.2" cy="78.8" r="4"/>
<circle cx="1717.3" cy="83.1" r="4"/>
<circle cx="1718.4" cy="82.1" r="4"/>
<circle cx="1719.5" cy="69.0" r="4"/>
<circle cx="1720.6" cy="69.2" r="4"/>
<circle cx="1721.7" cy="69.5" r="4"/>
<circle cx="1722.7" cy="72.9" r="4"/>
<circle cx="1723.8" cy="68.0" r="4"/>
<circle cx="1724.9" cy="74.3" r="4"/>
<circle cx="1726.0" cy="70.2" r="4"/>
<circle cx="1727.1" cy="71.3" r="4"/>
</g>
<rect x="999.6" y="29.0" width="728.0" height="483.5" fill="none" stroke="#200f1a" stroke-width="2.4"/>
<line x1="999.6" y1="512.0" x2="1009.6" y2="512.0" stroke="#200f1a" stroke-width="2.4"/>
<text x="986" y="522.8" text-anchor="end" font-size="30">0.00</text>
<line x1="999.6" y1="397.1" x2="1009.6" y2="397.1" stroke="#200f1a" stroke-width="2.4"/>
<text x="986" y="407.9" text-anchor="end" font-size="30">0.25</text>
<line x1="999.6" y1="282.2" x2="1009.6" y2="282.2" stroke="#200f1a" stroke-width="2.4"/>
<text x="986" y="293.0" text-anchor="end" font-size="30">0.50</text>
<line x1="999.6" y1="167.3" x2="1009.6" y2="167.3" stroke="#200f1a" stroke-width="2.4"/>
<text x="986" y="178.1" text-anchor="end" font-size="30">0.75</text>
<line x1="999.6" y1="52.4" x2="1009.6" y2="52.4" stroke="#200f1a" stroke-width="2.4"/>
<text x="986" y="63.2" text-anchor="end" font-size="30">1.00</text>
<text x="999.6" y="548" text-anchor="middle" font-size="30">0</text>
<line x1="1120.9" y1="512.5" x2="1120.9" y2="503.5" stroke="#200f1a" stroke-width="2.4"/>
<text x="1120.9" y="548" text-anchor="middle" font-size="30">50</text>
<line x1="1242.3" y1="512.5" x2="1242.3" y2="503.5" stroke="#200f1a" stroke-width="2.4"/>
<text x="1242.3" y="548" text-anchor="middle" font-size="30">100</text>
<line x1="1363.6" y1="512.5" x2="1363.6" y2="503.5" stroke="#200f1a" stroke-width="2.4"/>
<text x="1363.6" y="548" text-anchor="middle" font-size="30">150</text>
<line x1="1484.9" y1="512.5" x2="1484.9" y2="503.5" stroke="#200f1a" stroke-width="2.4"/>
<text x="1484.9" y="548" text-anchor="middle" font-size="30">200</text>
<line x1="1606.3" y1="512.5" x2="1606.3" y2="503.5" stroke="#200f1a" stroke-width="2.4"/>
<text x="1606.3" y="548" text-anchor="middle" font-size="30">250</text>
<text x="1727.6" y="548" text-anchor="middle" font-size="30">300</text>
<text x="1363.6" y="589.8" text-anchor="middle" font-size="29">Time (s)</text>
<text transform="translate(907.5,283) rotate(-90)" text-anchor="middle" font-size="29.2">Absorbance</text>
<text x="1018" y="124.8" font-size="24.6" font-weight="bold" fill="#c4000c">Light on</text>
<circle cx="1552.5" cy="135" r="4.3" fill="#6d8ede"/><circle cx="1552.5" cy="172.4" r="4.3" fill="#f57a35"/>
<text x="1571.5" y="145.3" font-size="25.6">Chloroform</text><text x="1571.5" y="182.6" font-size="25.6">Toluene</text>
<text x="882.6" y="31.4" font-size="42" font-weight="bold">b</text>
<rect x="119.3" y="748.6" width="686.9" height="447.7" fill="none" stroke="#200f1a" stroke-width="2.6"/>
<text x="107" y="1206.9" text-anchor="end" font-size="30">0.0</text>
<line x1="119.3" y1="1106.8" x2="128.3" y2="1106.8" stroke="#200f1a" stroke-width="2.4"/>
<text x="107" y="1117.4" text-anchor="end" font-size="30">4.0</text>
<line x1="119.3" y1="1017.2" x2="128.3" y2="1017.2" stroke="#200f1a" stroke-width="2.4"/>
<text x="107" y="1027.8" text-anchor="end" font-size="30">8.0</text>
<line x1="119.3" y1="927.7" x2="128.3" y2="927.7" stroke="#200f1a" stroke-width="2.4"/>
<text x="107" y="938.3" text-anchor="end" font-size="30">12.0</text>
<line x1="119.3" y1="838.1" x2="128.3" y2="838.1" stroke="#200f1a" stroke-width="2.4"/>
<text x="107" y="848.7" text-anchor="end" font-size="30">16.0</text>
<text x="107" y="759.2" text-anchor="end" font-size="30">20.0</text>
<text x="119.3" y="1231.6" text-anchor="middle" font-size="30">0.0</text>
<line x1="256.7" y1="1196.3" x2="256.7" y2="1187.3" stroke="#200f1a" stroke-width="2.4"/>
<text x="256.7" y="1231.6" text-anchor="middle" font-size="30">4.0</text>
<line x1="394.1" y1="1196.3" x2="394.1" y2="1187.3" stroke="#200f1a" stroke-width="2.4"/>
<text x="394.1" y="1231.6" text-anchor="middle" font-size="30">8.0</text>
<line x1="531.4" y1="1196.3" x2="531.4" y2="1187.3" stroke="#200f1a" stroke-width="2.4"/>
<text x="531.4" y="1231.6" text-anchor="middle" font-size="30">12.0</text>
<line x1="668.8" y1="1196.3" x2="668.8" y2="1187.3" stroke="#200f1a" stroke-width="2.4"/>
<text x="668.8" y="1231.6" text-anchor="middle" font-size="30">16.0</text>
<text x="806.2" y="1231.6" text-anchor="middle" font-size="30">20.0</text>
<text x="462.8" y="1274.6" text-anchor="middle" font-size="29">Time (s)</text>
<text transform="translate(22.5,972.4) rotate(-90)" text-anchor="middle" font-size="29.3">Bleached length (mm)</text>
<polyline points="233.7,1145.3 348.4,1090.9 462.8,1041.4 577.1,997.1 691.8,945.8" fill="none" stroke="#c8a4ac" stroke-width="1.1"/>
<polyline points="233.7,1103.4 348.4,1018.8 462.8,947.8 577.1,869.0" fill="none" stroke="#c8a4ac" stroke-width="1.1"/>
<polyline points="176.3,1121.3 233.7,1061.3 291.0,1010.7 348.4,961.9" fill="none" stroke="#c8a4ac" stroke-width="1.1"/>
<polyline points="176.3,1085.7 233.7,1017.7 290.3,937.5 347.7,843.1" fill="none" stroke="#c8a4ac" stroke-width="1.1"/>
<polyline points="149.4,1074.3 178.9,1023.9 208.6,982.5 239.2,942.0 268.7,887.2" fill="none" stroke="#c8a4ac" stroke-width="1.1"/>
<circle cx="233.7" cy="1145.3" r="5.2" fill="#e8101c"/>
<circle cx="348.4" cy="1090.9" r="5.2" fill="#e8101c"/>
<circle cx="462.8" cy="1041.4" r="5.2" fill="#e8101c"/>
<circle cx="577.1" cy="997.1" r="5.2" fill="#e8101c"/>
<circle cx="691.8" cy="945.8" r="5.2" fill="#e8101c"/>
<circle cx="233.7" cy="1103.4" r="5.2" fill="#f07a32"/>
<path d="M348.4 1006.0V1031.5M345.2 1006.0h6.4M345.2 1031.5h6.4" stroke="#2a1e22" stroke-width="2" fill="none"/>
<circle cx="348.4" cy="1018.8" r="5.2" fill="#f07a32"/>
<path d="M462.8 936.6V959.0M459.6 936.6h6.4M459.6 959.0h6.4" stroke="#2a1e22" stroke-width="2" fill="none"/>
<circle cx="462.8" cy="947.8" r="5.2" fill="#f07a32"/>
<path d="M577.1 850.0V888.1M573.9 850.0h6.4M573.9 888.1h6.4" stroke="#2a1e22" stroke-width="2" fill="none"/>
<circle cx="577.1" cy="869.0" r="5.2" fill="#f07a32"/>
<circle cx="176.3" cy="1121.3" r="5.2" fill="#1aa7ec"/>
<circle cx="233.7" cy="1061.3" r="5.2" fill="#1aa7ec"/>
<path d="M291.0 1003.6V1017.9M287.8 1003.6h6.4M287.8 1017.9h6.4" stroke="#2a1e22" stroke-width="2" fill="none"/>
<circle cx="291.0" cy="1010.7" r="5.2" fill="#1aa7ec"/>
<path d="M348.4 952.5V971.3M345.2 952.5h6.4M345.2 971.3h6.4" stroke="#2a1e22" stroke-width="2" fill="none"/>
<circle cx="348.4" cy="961.9" r="5.2" fill="#1aa7ec"/>
<circle cx="176.3" cy="1085.7" r="5.2" fill="#fcc412"/>
<circle cx="233.7" cy="1017.7" r="5.2" fill="#fcc412"/>
<circle cx="290.3" cy="937.5" r="5.2" fill="#fcc412"/>
<path d="M347.7 835.5V850.7M344.5 835.5h6.4M344.5 850.7h6.4" stroke="#2a1e22" stroke-width="2" fill="none"/>
<circle cx="347.7" cy="843.1" r="5.2" fill="#fcc412"/>
<circle cx="149.4" cy="1074.3" r="5.2" fill="#17994a"/>
<circle cx="178.9" cy="1023.9" r="5.2" fill="#17994a"/>
<circle cx="208.6" cy="982.5" r="5.2" fill="#17994a"/>
<circle cx="239.2" cy="942.0" r="5.2" fill="#17994a"/>
<circle cx="268.7" cy="887.2" r="5.2" fill="#17994a"/>
<circle cx="621.3" cy="773.3" r="4.4" fill="#e8101c"/>
<text x="637.5" y="782.2" font-size="25">10.3 mW cm<tspan font-size="16" dy="-13">−2</tspan></text>
<circle cx="621.3" cy="809.0" r="4.4" fill="#f07a32"/>
<text x="637.5" y="817.9" font-size="25">18.4 mW cm<tspan font-size="16" dy="-13">−2</tspan></text>
<circle cx="621.3" cy="844.8" r="4.4" fill="#1aa7ec"/>
<text x="637.5" y="853.7" font-size="25">28.1 mW cm<tspan font-size="16" dy="-13">−2</tspan></text>
<circle cx="621.3" cy="880.5" r="4.4" fill="#fcc412"/>
<text x="637.5" y="889.4" font-size="25">41.7 mW cm<tspan font-size="16" dy="-13">−2</tspan></text>
<circle cx="621.3" cy="916.3" r="4.4" fill="#17994a"/>
<text x="637.5" y="925.2" font-size="25">51.5 mW cm<tspan font-size="16" dy="-13">−2</tspan></text>
<text x="-0.4" y="733.6" font-size="42" font-weight="bold">c</text>
<g fill="#f56e20">
<circle cx="1006.9" cy="1193.7" r="3.5"/>
<circle cx="1008.7" cy="1193.8" r="3.5"/>
<circle cx="1010.5" cy="1194.0" r="3.5"/>
<circle cx="1012.4" cy="1194.1" r="3.5"/>
<circle cx="1014.2" cy="1194.3" r="3.5"/>
<circle cx="1016.0" cy="1194.4" r="3.5"/>
<circle cx="1017.8" cy="1194.6" r="3.5"/>
<circle cx="1019.7" cy="1194.8" r="3.5"/>
<circle cx="1021.5" cy="1194.9" r="3.5"/>
<circle cx="1023.3" cy="1195.1" r="3.5"/>
<circle cx="1025.1" cy="1195.2" r="3.5"/>
<circle cx="1027.0" cy="1195.4" r="3.5"/>
<circle cx="1028.8" cy="1195.6" r="3.5"/>
<circle cx="1030.6" cy="1195.7" r="3.5"/>
<circle cx="1032.4" cy="1195.9" r="3.5"/>
<circle cx="1034.3" cy="1196.1" r="3.5"/>
<circle cx="1036.1" cy="1196.2" r="3.5"/>
<circle cx="1037.9" cy="1196.4" r="3.5"/>
<circle cx="1039.7" cy="1196.6" r="3.5"/>
<circle cx="1041.6" cy="1196.7" r="3.5"/>
<circle cx="1043.4" cy="1196.9" r="3.5"/>
<circle cx="1045.2" cy="1197.0" r="3.5"/>
<circle cx="1047.0" cy="1197.2" r="3.5"/>
<circle cx="1048.9" cy="1197.3" r="3.5"/>
<circle cx="1050.7" cy="1197.3" r="3.5"/>
<circle cx="1052.5" cy="1197.4" r="3.5"/>
<circle cx="1054.3" cy="1197.4" r="3.5"/>
<circle cx="1056.2" cy="1197.4" r="3.5"/>
<circle cx="1058.0" cy="1197.4" r="3.5"/>
<circle cx="1059.8" cy="1197.4" r="3.5"/>
<circle cx="1061.6" cy="1197.4" r="3.5"/>
<circle cx="1063.5" cy="1197.4" r="3.5"/>
<circle cx="1065.3" cy="1197.4" r="3.5"/>
<circle cx="1067.1" cy="1197.4" r="3.5"/>
<circle cx="1068.9" cy="1197.4" r="3.5"/>
<circle cx="1070.7" cy="1197.4" r="3.5"/>
<circle cx="1072.6" cy="1197.4" r="3.5"/>
<circle cx="1074.4" cy="1197.4" r="3.5"/>
<circle cx="1076.2" cy="1197.4" r="3.5"/>
<circle cx="1078.0" cy="1197.4" r="3.5"/>
<circle cx="1079.9" cy="1197.4" r="3.5"/>
<circle cx="1081.7" cy="1197.4" r="3.5"/>
<circle cx="1083.5" cy="1197.4" r="3.5"/>
<circle cx="1085.3" cy="1197.4" r="3.5"/>
<circle cx="1087.2" cy="1197.4" r="3.5"/>
<circle cx="1089.0" cy="1197.4" r="3.5"/>
<circle cx="1090.8" cy="1197.4" r="3.5"/>
<circle cx="1092.6" cy="1197.4" r="3.5"/>
<circle cx="1094.5" cy="1197.4" r="3.5"/>
<circle cx="1096.3" cy="1197.3" r="3.5"/>
<circle cx="1098.1" cy="1197.3" r="3.5"/>
<circle cx="1099.9" cy="1197.2" r="3.5"/>
<circle cx="1101.8" cy="1197.0" r="3.5"/>
<circle cx="1103.6" cy="1196.8" r="3.5"/>
<circle cx="1105.4" cy="1196.6" r="3.5"/>
<circle cx="1107.2" cy="1196.3" r="3.5"/>
<circle cx="1109.1" cy="1196.1" r="3.5"/>
<circle cx="1110.9" cy="1195.8" r="3.5"/>
<circle cx="1112.7" cy="1195.5" r="3.5"/>
<circle cx="1114.5" cy="1195.3" r="3.5"/>
<circle cx="1116.4" cy="1195.0" r="3.5"/>
<circle cx="1118.2" cy="1194.7" r="3.5"/>
<circle cx="1120.0" cy="1194.5" r="3.5"/>
<circle cx="1121.8" cy="1194.2" r="3.5"/>
<circle cx="1123.7" cy="1193.9" r="3.5"/>
<circle cx="1125.5" cy="1193.6" r="3.5"/>
<circle cx="1127.3" cy="1193.4" r="3.5"/>
<circle cx="1129.1" cy="1193.1" r="3.5"/>
<circle cx="1130.9" cy="1192.8" r="3.5"/>
<circle cx="1132.8" cy="1192.6" r="3.5"/>
<circle cx="1134.6" cy="1192.3" r="3.5"/>
<circle cx="1136.4" cy="1192.0" r="3.5"/>
<circle cx="1138.2" cy="1191.8" r="3.5"/>
<circle cx="1140.1" cy="1191.5" r="3.5"/>
<circle cx="1141.9" cy="1191.2" r="3.5"/>
<circle cx="1143.7" cy="1190.9" r="3.5"/>
<circle cx="1145.5" cy="1190.7" r="3.5"/>
<circle cx="1147.4" cy="1190.4" r="3.5"/>
<circle cx="1149.2" cy="1190.2" r="3.5"/>
<circle cx="1151.0" cy="1189.9" r="3.5"/>
<circle cx="1152.8" cy="1189.7" r="3.5"/>
<circle cx="1154.7" cy="1189.5" r="3.5"/>
<circle cx="1156.5" cy="1189.3" r="3.5"/>
<circle cx="1158.3" cy="1189.1" r="3.5"/>
<circle cx="1160.1" cy="1188.9" r="3.5"/>
<circle cx="1162.0" cy="1188.7" r="3.5"/>
<circle cx="1163.8" cy="1188.5" r="3.5"/>
<circle cx="1165.6" cy="1188.4" r="3.5"/>
<circle cx="1167.4" cy="1188.2" r="3.5"/>
<circle cx="1169.3" cy="1188.0" r="3.5"/>
<circle cx="1171.1" cy="1187.8" r="3.5"/>
<circle cx="1172.9" cy="1187.7" r="3.5"/>
<circle cx="1174.7" cy="1187.5" r="3.5"/>
<circle cx="1176.6" cy="1187.5" r="3.5"/>
<circle cx="1178.4" cy="1187.4" r="3.5"/>
<circle cx="1180.2" cy="1187.4" r="3.5"/>
<circle cx="1182.0" cy="1187.5" r="3.5"/>
<circle cx="1183.9" cy="1187.6" r="3.5"/>
<circle cx="1185.7" cy="1187.6" r="3.5"/>
<circle cx="1187.5" cy="1187.7" r="3.5"/>
<circle cx="1189.3" cy="1187.8" r="3.5"/>
<circle cx="1191.1" cy="1187.9" r="3.5"/>
<circle cx="1193.0" cy="1188.0" r="3.5"/>
<circle cx="1194.8" cy="1188.1" r="3.5"/>
<circle cx="1196.6" cy="1188.2" r="3.5"/>
<circle cx="1198.4" cy="1188.3" r="3.5"/>
<circle cx="1200.3" cy="1188.5" r="3.5"/>
<circle cx="1202.1" cy="1188.6" r="3.5"/>
<circle cx="1203.9" cy="1188.8" r="3.5"/>
<circle cx="1205.7" cy="1189.0" r="3.5"/>
<circle cx="1207.6" cy="1189.3" r="3.5"/>
<circle cx="1209.4" cy="1189.5" r="3.5"/>
<circle cx="1211.2" cy="1189.8" r="3.5"/>
<circle cx="1213.0" cy="1190.1" r="3.5"/>
<circle cx="1214.9" cy="1190.3" r="3.5"/>
<circle cx="1216.7" cy="1190.6" r="3.5"/>
<circle cx="1218.5" cy="1190.9" r="3.5"/>
<circle cx="1220.3" cy="1191.1" r="3.5"/>
<circle cx="1222.2" cy="1191.4" r="3.5"/>
<circle cx="1224.0" cy="1191.7" r="3.5"/>
<circle cx="1225.8" cy="1192.0" r="3.5"/>
<circle cx="1227.6" cy="1192.2" r="3.5"/>
<circle cx="1229.5" cy="1192.5" r="3.5"/>
<circle cx="1231.3" cy="1192.8" r="3.5"/>
<circle cx="1233.1" cy="1193.1" r="3.5"/>
<circle cx="1234.9" cy="1193.3" r="3.5"/>
<circle cx="1236.8" cy="1193.6" r="3.5"/>
<circle cx="1238.6" cy="1193.9" r="3.5"/>
<circle cx="1240.4" cy="1194.2" r="3.5"/>
<circle cx="1242.2" cy="1194.5" r="3.5"/>
<circle cx="1244.1" cy="1194.7" r="3.5"/>
<circle cx="1245.9" cy="1195.0" r="3.5"/>
<circle cx="1247.7" cy="1195.3" r="3.5"/>
<circle cx="1249.5" cy="1195.5" r="3.5"/>
<circle cx="1251.3" cy="1195.8" r="3.5"/>
<circle cx="1253.2" cy="1196.0" r="3.5"/>
<circle cx="1255.0" cy="1196.2" r="3.5"/>
<circle cx="1256.8" cy="1196.3" r="3.5"/>
<circle cx="1258.6" cy="1196.4" r="3.5"/>
<circle cx="1260.5" cy="1196.5" r="3.5"/>
<circle cx="1262.3" cy="1196.6" r="3.5"/>
<circle cx="1264.1" cy="1196.7" r="3.5"/>
<circle cx="1265.9" cy="1196.8" r="3.5"/>
<circle cx="1267.8" cy="1196.9" r="3.5"/>
<circle cx="1269.6" cy="1196.9" r="3.5"/>
<circle cx="1271.4" cy="1197.0" r="3.5"/>
<circle cx="1273.2" cy="1197.1" r="3.5"/>
<circle cx="1275.1" cy="1197.2" r="3.5"/>
<circle cx="1276.9" cy="1197.2" r="3.5"/>
<circle cx="1278.7" cy="1197.2" r="3.5"/>
<circle cx="1280.5" cy="1197.2" r="3.5"/>
<circle cx="1282.4" cy="1197.2" r="3.5"/>
<circle cx="1284.2" cy="1197.1" r="3.5"/>
<circle cx="1286.0" cy="1197.0" r="3.5"/>
<circle cx="1287.8" cy="1196.9" r="3.5"/>
<circle cx="1289.7" cy="1196.8" r="3.5"/>
<circle cx="1291.5" cy="1196.7" r="3.5"/>
<circle cx="1293.3" cy="1196.5" r="3.5"/>
<circle cx="1295.1" cy="1196.4" r="3.5"/>
<circle cx="1297.0" cy="1196.3" r="3.5"/>
<circle cx="1298.8" cy="1196.2" r="3.5"/>
<circle cx="1300.6" cy="1196.1" r="3.5"/>
<circle cx="1302.4" cy="1196.0" r="3.5"/>
<circle cx="1304.3" cy="1195.9" r="3.5"/>
<circle cx="1306.1" cy="1195.8" r="3.5"/>
<circle cx="1307.9" cy="1195.6" r="3.5"/>
<circle cx="1309.7" cy="1195.5" r="3.5"/>
<circle cx="1311.5" cy="1195.4" r="3.5"/>
<circle cx="1313.4" cy="1195.3" r="3.5"/>
<circle cx="1315.2" cy="1195.1" r="3.5"/>
<circle cx="1317.0" cy="1194.9" r="3.5"/>
<circle cx="1318.8" cy="1194.6" r="3.5"/>
<circle cx="1320.7" cy="1194.2" r="3.5"/>
<circle cx="1322.5" cy="1193.8" r="3.5"/>
<circle cx="1324.3" cy="1193.2" r="3.5"/>
<circle cx="1326.1" cy="1192.5" r="3.5"/>
<circle cx="1328.0" cy="1191.7" r="3.5"/>
<circle cx="1329.8" cy="1190.9" r="3.5"/>
<circle cx="1331.6" cy="1189.9" r="3.5"/>
<circle cx="1333.4" cy="1188.9" r="3.5"/>
<circle cx="1335.3" cy="1187.7" r="3.5"/>
<circle cx="1337.1" cy="1186.6" r="3.5"/>
<circle cx="1338.9" cy="1185.4" r="3.5"/>
<circle cx="1340.7" cy="1184.2" r="3.5"/>
<circle cx="1342.6" cy="1183.1" r="3.5"/>
<circle cx="1344.4" cy="1181.9" r="3.5"/>
<circle cx="1346.2" cy="1180.7" r="3.5"/>
<circle cx="1348.0" cy="1179.5" r="3.5"/>
<circle cx="1349.9" cy="1178.3" r="3.5"/>
<circle cx="1351.7" cy="1177.2" r="3.5"/>
<circle cx="1353.5" cy="1176.0" r="3.5"/>
<circle cx="1355.3" cy="1174.8" r="3.5"/>
<circle cx="1357.2" cy="1173.5" r="3.5"/>
<circle cx="1359.0" cy="1172.2" r="3.5"/>
<circle cx="1360.8" cy="1170.9" r="3.5"/>
<circle cx="1362.6" cy="1169.5" r="3.5"/>
<circle cx="1364.5" cy="1168.1" r="3.5"/>
<circle cx="1366.3" cy="1166.7" r="3.5"/>
<circle cx="1368.1" cy="1165.2" r="3.5"/>
<circle cx="1369.9" cy="1163.8" r="3.5"/>
<circle cx="1371.8" cy="1162.3" r="3.5"/>
<circle cx="1373.6" cy="1160.8" r="3.5"/>
<circle cx="1375.4" cy="1159.4" r="3.5"/>
<circle cx="1377.2" cy="1157.9" r="3.5"/>
<circle cx="1379.0" cy="1156.5" r="3.5"/>
<circle cx="1380.9" cy="1155.0" r="3.5"/>
<circle cx="1382.7" cy="1153.5" r="3.5"/>
<circle cx="1384.5" cy="1152.0" r="3.5"/>
<circle cx="1386.3" cy="1150.5" r="3.5"/>
<circle cx="1388.2" cy="1148.9" r="3.5"/>
<circle cx="1390.0" cy="1147.3" r="3.5"/>
<circle cx="1391.8" cy="1145.6" r="3.5"/>
<circle cx="1393.6" cy="1143.8" r="3.5"/>
<circle cx="1395.5" cy="1142.0" r="3.5"/>
<circle cx="1397.3" cy="1140.2" r="3.5"/>
<circle cx="1399.1" cy="1138.4" r="3.5"/>
<circle cx="1400.9" cy="1136.5" r="3.5"/>
<circle cx="1402.8" cy="1134.5" r="3.5"/>
<circle cx="1404.6" cy="1132.4" r="3.5"/>
<circle cx="1406.4" cy="1130.0" r="3.5"/>
<circle cx="1408.2" cy="1127.4" r="3.5"/>
<circle cx="1410.1" cy="1124.6" r="3.5"/>
<circle cx="1411.9" cy="1121.6" r="3.5"/>
<circle cx="1413.7" cy="1118.5" r="3.5"/>
<circle cx="1415.5" cy="1115.2" r="3.5"/>
<circle cx="1417.4" cy="1111.9" r="3.5"/>
<circle cx="1419.2" cy="1108.5" r="3.5"/>
<circle cx="1421.0" cy="1105.0" r="3.5"/>
<circle cx="1422.8" cy="1101.4" r="3.5"/>
<circle cx="1424.7" cy="1097.8" r="3.5"/>
<circle cx="1426.5" cy="1094.1" r="3.5"/>
<circle cx="1428.3" cy="1090.3" r="3.5"/>
<circle cx="1430.1" cy="1086.4" r="3.5"/>
<circle cx="1432.0" cy="1082.2" r="3.5"/>
<circle cx="1433.8" cy="1077.6" r="3.5"/>
<circle cx="1435.6" cy="1072.8" r="3.5"/>
<circle cx="1437.4" cy="1067.7" r="3.5"/>
<circle cx="1439.2" cy="1062.4" r="3.5"/>
<circle cx="1441.1" cy="1056.8" r="3.5"/>
<circle cx="1442.9" cy="1051.1" r="3.5"/>
<circle cx="1444.7" cy="1045.2" r="3.5"/>
<circle cx="1446.5" cy="1039.1" r="3.5"/>
<circle cx="1448.4" cy="1032.8" r="3.5"/>
<circle cx="1450.2" cy="1026.5" r="3.5"/>
<circle cx="1452.0" cy="1020.2" r="3.5"/>
<circle cx="1453.8" cy="1014.0" r="3.5"/>
<circle cx="1455.7" cy="1008.1" r="3.5"/>
<circle cx="1457.5" cy="1002.3" r="3.5"/>
<circle cx="1459.3" cy="996.8" r="3.5"/>
<circle cx="1461.1" cy="991.3" r="3.5"/>
<circle cx="1463.0" cy="986.0" r="3.5"/>
<circle cx="1464.8" cy="980.8" r="3.5"/>
<circle cx="1466.6" cy="975.8" r="3.5"/>
<circle cx="1468.4" cy="970.9" r="3.5"/>
<circle cx="1470.3" cy="966.2" r="3.5"/>
<circle cx="1472.1" cy="961.6" r="3.5"/>
<circle cx="1473.9" cy="957.1" r="3.5"/>
<circle cx="1475.7" cy="952.9" r="3.5"/>
<circle cx="1477.6" cy="948.9" r="3.5"/>
<circle cx="1479.4" cy="945.1" r="3.5"/>
<circle cx="1481.2" cy="941.6" r="3.5"/>
<circle cx="1483.0" cy="938.2" r="3.5"/>
<circle cx="1484.9" cy="935.0" r="3.5"/>
<circle cx="1486.7" cy="931.7" r="3.5"/>
<circle cx="1488.5" cy="928.5" r="3.5"/>
<circle cx="1490.3" cy="925.3" r="3.5"/>
<circle cx="1492.2" cy="922.1" r="3.5"/>
<circle cx="1494.0" cy="918.9" r="3.5"/>
<circle cx="1495.8" cy="915.7" r="3.5"/>
<circle cx="1497.6" cy="912.4" r="3.5"/>
<circle cx="1499.4" cy="908.9" r="3.5"/>
<circle cx="1501.3" cy="905.3" r="3.5"/>
<circle cx="1503.1" cy="901.6" r="3.5"/>
<circle cx="1504.9" cy="897.7" r="3.5"/>
<circle cx="1506.7" cy="893.7" r="3.5"/>
<circle cx="1508.6" cy="889.6" r="3.5"/>
<circle cx="1510.4" cy="885.5" r="3.5"/>
<circle cx="1512.2" cy="881.3" r="3.5"/>
<circle cx="1514.0" cy="877.1" r="3.5"/>
<circle cx="1515.9" cy="872.9" r="3.5"/>
<circle cx="1517.7" cy="868.6" r="3.5"/>
<circle cx="1519.5" cy="864.2" r="3.5"/>
<circle cx="1521.3" cy="859.5" r="3.5"/>
<circle cx="1525.0" cy="849.1" r="3.5"/>
<circle cx="1528.6" cy="836.4" r="3.5"/>
<circle cx="1532.3" cy="821.7" r="3.5"/>
<circle cx="1535.9" cy="807.1" r="3.5"/>
<circle cx="1539.6" cy="797.4" r="3.5"/>
<circle cx="1543.2" cy="788.2" r="3.5"/>
<circle cx="1546.9" cy="777.8" r="3.5"/>
<circle cx="1548.7" cy="763.3" r="3.5"/>
<circle cx="1550.5" cy="754.6" r="3.5"/>
<circle cx="1552.4" cy="743.4" r="3.5"/>
<circle cx="1554.2" cy="747.0" r="3.5"/>
<circle cx="1556.0" cy="744.8" r="3.5"/>
<circle cx="1557.8" cy="743.6" r="3.5"/>
<circle cx="1559.6" cy="745.4" r="3.5"/>
<circle cx="1561.5" cy="745.3" r="3.5"/>
<circle cx="1563.3" cy="741.2" r="3.5"/>
<circle cx="1565.1" cy="742.1" r="3.5"/>
<circle cx="1566.9" cy="746.5" r="3.5"/>
<circle cx="1568.8" cy="757.5" r="3.5"/>
<circle cx="1570.6" cy="767.7" r="3.5"/>
<circle cx="1572.4" cy="771.2" r="3.5"/>
<circle cx="1574.2" cy="779.4" r="3.5"/>
<circle cx="1576.1" cy="794.7" r="3.5"/>
<circle cx="1577.9" cy="805.0" r="3.5"/>
<circle cx="1579.7" cy="816.8" r="3.5"/>
<circle cx="1581.5" cy="829.4" r="3.5"/>
<circle cx="1583.4" cy="842.9" r="3.5"/>
<circle cx="1585.2" cy="857.3" r="3.5"/>
<circle cx="1587.0" cy="872.6" r="3.5"/>
<circle cx="1588.8" cy="888.3" r="3.5"/>
<circle cx="1590.7" cy="904.1" r="3.5"/>
<circle cx="1592.5" cy="919.8" r="3.5"/>
<circle cx="1594.3" cy="935.2" r="3.5"/>
<circle cx="1596.1" cy="950.4" r="3.5"/>
<circle cx="1598.0" cy="965.6" r="3.5"/>
<circle cx="1599.8" cy="980.7" r="3.5"/>
<circle cx="1601.6" cy="995.4" r="3.5"/>
<circle cx="1603.4" cy="1009.5" r="3.5"/>
<circle cx="1605.3" cy="1022.9" r="3.5"/>
<circle cx="1607.1" cy="1035.7" r="3.5"/>
<circle cx="1608.9" cy="1048.1" r="3.5"/>
<circle cx="1610.7" cy="1060.0" r="3.5"/>
<circle cx="1612.6" cy="1071.5" r="3.5"/>
<circle cx="1614.4" cy="1082.3" r="3.5"/>
<circle cx="1616.2" cy="1092.5" r="3.5"/>
<circle cx="1618.0" cy="1102.1" r="3.5"/>
<circle cx="1619.8" cy="1111.3" r="3.5"/>
<circle cx="1621.7" cy="1119.7" r="3.5"/>
<circle cx="1623.5" cy="1127.4" r="3.5"/>
<circle cx="1625.3" cy="1134.3" r="3.5"/>
<circle cx="1627.1" cy="1140.6" r="3.5"/>
<circle cx="1629.0" cy="1146.3" r="3.5"/>
<circle cx="1630.8" cy="1151.7" r="3.5"/>
<circle cx="1632.6" cy="1156.7" r="3.5"/>
<circle cx="1634.4" cy="1161.3" r="3.5"/>
<circle cx="1636.3" cy="1165.6" r="3.5"/>
<circle cx="1638.1" cy="1169.6" r="3.5"/>
<circle cx="1639.9" cy="1173.2" r="3.5"/>
<circle cx="1641.7" cy="1176.5" r="3.5"/>
<circle cx="1643.6" cy="1179.5" r="3.5"/>
<circle cx="1645.4" cy="1182.3" r="3.5"/>
<circle cx="1647.2" cy="1184.7" r="3.5"/>
<circle cx="1649.0" cy="1186.7" r="3.5"/>
<circle cx="1650.9" cy="1188.4" r="3.5"/>
<circle cx="1652.7" cy="1189.9" r="3.5"/>
<circle cx="1654.5" cy="1191.3" r="3.5"/>
<circle cx="1656.3" cy="1192.5" r="3.5"/>
<circle cx="1658.2" cy="1193.6" r="3.5"/>
<circle cx="1660.0" cy="1194.7" r="3.5"/>
<circle cx="1661.8" cy="1195.5" r="3.5"/>
<circle cx="1663.6" cy="1196.3" r="3.5"/>
<circle cx="1665.5" cy="1197.0" r="3.5"/>
<circle cx="1667.3" cy="1197.6" r="3.5"/>
<circle cx="1669.1" cy="1198.2" r="3.5"/>
<circle cx="1670.9" cy="1198.8" r="3.5"/>
<circle cx="1672.8" cy="1199.3" r="3.5"/>
<circle cx="1674.6" cy="1199.7" r="3.5"/>
<circle cx="1676.4" cy="1200.1" r="3.5"/>
</g>
<g fill="#2d66cc">
<circle cx="1006.9" cy="1184.7" r="3.0"/>
<circle cx="1008.7" cy="1184.8" r="3.0"/>
<circle cx="1010.5" cy="1184.8" r="3.0"/>
<circle cx="1012.4" cy="1184.9" r="3.0"/>
<circle cx="1014.2" cy="1184.9" r="3.0"/>
<circle cx="1016.0" cy="1185.0" r="3.0"/>
<circle cx="1017.8" cy="1185.0" r="3.0"/>
<circle cx="1019.7" cy="1185.1" r="3.0"/>
<circle cx="1021.5" cy="1185.1" r="3.0"/>
<circle cx="1023.3" cy="1185.2" r="3.0"/>
<circle cx="1025.1" cy="1185.2" r="3.0"/>
<circle cx="1027.0" cy="1185.3" r="3.0"/>
<circle cx="1028.8" cy="1185.3" r="3.0"/>
<circle cx="1030.6" cy="1185.4" r="3.0"/>
<circle cx="1032.4" cy="1185.4" r="3.0"/>
<circle cx="1034.3" cy="1185.5" r="3.0"/>
<circle cx="1036.1" cy="1185.5" r="3.0"/>
<circle cx="1037.9" cy="1185.6" r="3.0"/>
<circle cx="1039.7" cy="1185.6" r="3.0"/>
<circle cx="1041.6" cy="1185.7" r="3.0"/>
<circle cx="1043.4" cy="1185.7" r="3.0"/>
<circle cx="1045.2" cy="1185.8" r="3.0"/>
<circle cx="1047.0" cy="1185.8" r="3.0"/>
<circle cx="1048.9" cy="1185.8" r="3.0"/>
<circle cx="1050.7" cy="1185.8" r="3.0"/>
<circle cx="1052.5" cy="1185.8" r="3.0"/>
<circle cx="1054.3" cy="1185.8" r="3.0"/>
<circle cx="1056.2" cy="1185.7" r="3.0"/>
<circle cx="1058.0" cy="1185.7" r="3.0"/>
<circle cx="1059.8" cy="1185.6" r="3.0"/>
<circle cx="1061.6" cy="1185.6" r="3.0"/>
<circle cx="1063.5" cy="1185.6" r="3.0"/>
<circle cx="1065.3" cy="1185.5" r="3.0"/>
<circle cx="1067.1" cy="1185.5" r="3.0"/>
<circle cx="1068.9" cy="1185.4" r="3.0"/>
<circle cx="1070.7" cy="1185.4" r="3.0"/>
<circle cx="1072.6" cy="1185.3" r="3.0"/>
<circle cx="1074.4" cy="1185.3" r="3.0"/>
<circle cx="1076.2" cy="1185.3" r="3.0"/>
<circle cx="1078.0" cy="1185.2" r="3.0"/>
<circle cx="1079.9" cy="1185.2" r="3.0"/>
<circle cx="1081.7" cy="1185.1" r="3.0"/>
<circle cx="1083.5" cy="1185.1" r="3.0"/>
<circle cx="1085.3" cy="1185.0" r="3.0"/>
<circle cx="1087.2" cy="1185.0" r="3.0"/>
<circle cx="1089.0" cy="1185.0" r="3.0"/>
<circle cx="1090.8" cy="1184.9" r="3.0"/>
<circle cx="1092.6" cy="1184.9" r="3.0"/>
<circle cx="1094.5" cy="1184.8" r="3.0"/>
<circle cx="1096.3" cy="1184.8" r="3.0"/>
<circle cx="1098.1" cy="1184.7" r="3.0"/>
<circle cx="1099.9" cy="1184.7" r="3.0"/>
<circle cx="1101.8" cy="1184.6" r="3.0"/>
<circle cx="1103.6" cy="1184.5" r="3.0"/>
<circle cx="1105.4" cy="1184.4" r="3.0"/>
<circle cx="1107.2" cy="1184.3" r="3.0"/>
<circle cx="1109.1" cy="1184.2" r="3.0"/>
<circle cx="1110.9" cy="1184.2" r="3.0"/>
<circle cx="1112.7" cy="1184.1" r="3.0"/>
<circle cx="1114.5" cy="1184.0" r="3.0"/>
<circle cx="1116.4" cy="1183.9" r="3.0"/>
<circle cx="1118.2" cy="1183.8" r="3.0"/>
<circle cx="1120.0" cy="1183.7" r="3.0"/>
<circle cx="1121.8" cy="1183.6" r="3.0"/>
<circle cx="1123.7" cy="1183.5" r="3.0"/>
<circle cx="1125.5" cy="1183.3" r="3.0"/>
<circle cx="1127.3" cy="1183.2" r="3.0"/>
<circle cx="1129.1" cy="1183.0" r="3.0"/>
<circle cx="1130.9" cy="1182.9" r="3.0"/>
<circle cx="1132.8" cy="1182.7" r="3.0"/>
<circle cx="1134.6" cy="1182.5" r="3.0"/>
<circle cx="1136.4" cy="1182.3" r="3.0"/>
<circle cx="1138.2" cy="1182.1" r="3.0"/>
<circle cx="1140.1" cy="1182.0" r="3.0"/>
<circle cx="1141.9" cy="1181.8" r="3.0"/>
<circle cx="1143.7" cy="1181.6" r="3.0"/>
<circle cx="1145.5" cy="1181.4" r="3.0"/>
<circle cx="1147.4" cy="1181.2" r="3.0"/>
<circle cx="1149.2" cy="1181.1" r="3.0"/>
<circle cx="1151.0" cy="1181.0" r="3.0"/>
<circle cx="1152.8" cy="1180.9" r="3.0"/>
<circle cx="1154.7" cy="1180.8" r="3.0"/>
<circle cx="1156.5" cy="1180.8" r="3.0"/>
<circle cx="1158.3" cy="1180.8" r="3.0"/>
<circle cx="1160.1" cy="1180.8" r="3.0"/>
<circle cx="1162.0" cy="1180.8" r="3.0"/>
<circle cx="1163.8" cy="1180.8" r="3.0"/>
<circle cx="1165.6" cy="1180.8" r="3.0"/>
<circle cx="1167.4" cy="1180.8" r="3.0"/>
<circle cx="1169.3" cy="1180.8" r="3.0"/>
<circle cx="1171.1" cy="1180.8" r="3.0"/>
<circle cx="1172.9" cy="1180.8" r="3.0"/>
<circle cx="1174.7" cy="1180.9" r="3.0"/>
<circle cx="1176.6" cy="1180.9" r="3.0"/>
<circle cx="1178.4" cy="1181.0" r="3.0"/>
<circle cx="1180.2" cy="1181.2" r="3.0"/>
<circle cx="1182.0" cy="1181.3" r="3.0"/>
<circle cx="1183.9" cy="1181.5" r="3.0"/>
<circle cx="1185.7" cy="1181.7" r="3.0"/>
<circle cx="1187.5" cy="1181.9" r="3.0"/>
<circle cx="1189.3" cy="1182.1" r="3.0"/>
<circle cx="1191.1" cy="1182.2" r="3.0"/>
<circle cx="1193.0" cy="1182.4" r="3.0"/>
<circle cx="1194.8" cy="1182.6" r="3.0"/>
<circle cx="1196.6" cy="1182.8" r="3.0"/>
<circle cx="1198.4" cy="1183.0" r="3.0"/>
<circle cx="1200.3" cy="1183.2" r="3.0"/>
<circle cx="1202.1" cy="1183.5" r="3.0"/>
<circle cx="1203.9" cy="1183.8" r="3.0"/>
<circle cx="1205.7" cy="1184.1" r="3.0"/>
<circle cx="1207.6" cy="1184.4" r="3.0"/>
<circle cx="1209.4" cy="1184.8" r="3.0"/>
<circle cx="1211.2" cy="1185.1" r="3.0"/>
<circle cx="1213.0" cy="1185.5" r="3.0"/>
<circle cx="1214.9" cy="1185.9" r="3.0"/>
<circle cx="1216.7" cy="1186.2" r="3.0"/>
<circle cx="1218.5" cy="1186.6" r="3.0"/>
<circle cx="1220.3" cy="1186.9" r="3.0"/>
<circle cx="1222.2" cy="1187.3" r="3.0"/>
<circle cx="1224.0" cy="1187.6" r="3.0"/>
<circle cx="1225.8" cy="1188.0" r="3.0"/>
<circle cx="1227.6" cy="1188.3" r="3.0"/>
<circle cx="1229.5" cy="1188.5" r="3.0"/>
<circle cx="1231.3" cy="1188.8" r="3.0"/>
<circle cx="1233.1" cy="1189.0" r="3.0"/>
<circle cx="1234.9" cy="1189.2" r="3.0"/>
<circle cx="1236.8" cy="1189.3" r="3.0"/>
<circle cx="1238.6" cy="1189.5" r="3.0"/>
<circle cx="1240.4" cy="1189.7" r="3.0"/>
<circle cx="1242.2" cy="1189.9" r="3.0"/>
<circle cx="1244.1" cy="1190.1" r="3.0"/>
<circle cx="1245.9" cy="1190.2" r="3.0"/>
<circle cx="1247.7" cy="1190.4" r="3.0"/>
<circle cx="1249.5" cy="1190.6" r="3.0"/>
<circle cx="1251.3" cy="1190.7" r="3.0"/>
<circle cx="1253.2" cy="1190.8" r="3.0"/>
<circle cx="1255.0" cy="1190.9" r="3.0"/>
<circle cx="1256.8" cy="1191.0" r="3.0"/>
<circle cx="1258.6" cy="1191.0" r="3.0"/>
<circle cx="1260.5" cy="1191.0" r="3.0"/>
<circle cx="1262.3" cy="1191.0" r="3.0"/>
<circle cx="1264.1" cy="1191.0" r="3.0"/>
<circle cx="1265.9" cy="1191.0" r="3.0"/>
<circle cx="1267.8" cy="1191.0" r="3.0"/>
<circle cx="1269.6" cy="1191.0" r="3.0"/>
<circle cx="1271.4" cy="1191.0" r="3.0"/>
<circle cx="1273.2" cy="1191.0" r="3.0"/>
<circle cx="1275.1" cy="1191.0" r="3.0"/>
<circle cx="1276.9" cy="1190.9" r="3.0"/>
<circle cx="1278.7" cy="1190.9" r="3.0"/>
<circle cx="1280.5" cy="1190.8" r="3.0"/>
<circle cx="1282.4" cy="1190.7" r="3.0"/>
<circle cx="1284.2" cy="1190.6" r="3.0"/>
<circle cx="1286.0" cy="1190.4" r="3.0"/>
<circle cx="1287.8" cy="1190.3" r="3.0"/>
<circle cx="1289.7" cy="1190.2" r="3.0"/>
<circle cx="1291.5" cy="1190.0" r="3.0"/>
<circle cx="1293.3" cy="1189.9" r="3.0"/>
<circle cx="1295.1" cy="1189.7" r="3.0"/>
<circle cx="1297.0" cy="1189.6" r="3.0"/>
<circle cx="1298.8" cy="1189.4" r="3.0"/>
<circle cx="1300.6" cy="1189.3" r="3.0"/>
<circle cx="1302.4" cy="1189.1" r="3.0"/>
<circle cx="1304.3" cy="1189.0" r="3.0"/>
<circle cx="1306.1" cy="1188.8" r="3.0"/>
<circle cx="1307.9" cy="1188.7" r="3.0"/>
<circle cx="1309.7" cy="1188.5" r="3.0"/>
<circle cx="1311.5" cy="1188.4" r="3.0"/>
<circle cx="1313.4" cy="1188.2" r="3.0"/>
<circle cx="1315.2" cy="1188.1" r="3.0"/>
<circle cx="1317.0" cy="1188.0" r="3.0"/>
<circle cx="1318.8" cy="1187.9" r="3.0"/>
<circle cx="1320.7" cy="1187.9" r="3.0"/>
<circle cx="1322.5" cy="1187.9" r="3.0"/>
<circle cx="1324.3" cy="1187.9" r="3.0"/>
<circle cx="1326.1" cy="1187.9" r="3.0"/>
<circle cx="1328.0" cy="1187.8" r="3.0"/>
<circle cx="1329.8" cy="1187.6" r="3.0"/>
<circle cx="1331.6" cy="1187.2" r="3.0"/>
<circle cx="1333.4" cy="1186.7" r="3.0"/>
<circle cx="1335.3" cy="1186.1" r="3.0"/>
<circle cx="1337.1" cy="1185.4" r="3.0"/>
<circle cx="1338.9" cy="1184.7" r="3.0"/>
<circle cx="1340.7" cy="1184.0" r="3.0"/>
<circle cx="1342.6" cy="1183.3" r="3.0"/>
<circle cx="1344.4" cy="1182.5" r="3.0"/>
<circle cx="1346.2" cy="1181.8" r="3.0"/>
<circle cx="1348.0" cy="1181.1" r="3.0"/>
<circle cx="1349.9" cy="1180.4" r="3.0"/>
<circle cx="1351.7" cy="1179.6" r="3.0"/>
<circle cx="1353.5" cy="1178.9" r="3.0"/>
<circle cx="1355.3" cy="1178.1" r="3.0"/>
<circle cx="1357.2" cy="1177.3" r="3.0"/>
<circle cx="1359.0" cy="1176.5" r="3.0"/>
<circle cx="1360.8" cy="1175.6" r="3.0"/>
<circle cx="1362.6" cy="1174.7" r="3.0"/>
<circle cx="1364.5" cy="1173.7" r="3.0"/>
<circle cx="1366.3" cy="1172.8" r="3.0"/>
<circle cx="1368.1" cy="1171.8" r="3.0"/>
<circle cx="1369.9" cy="1170.8" r="3.0"/>
<circle cx="1371.8" cy="1169.8" r="3.0"/>
<circle cx="1373.6" cy="1168.8" r="3.0"/>
<circle cx="1375.4" cy="1167.8" r="3.0"/>
<circle cx="1377.2" cy="1166.8" r="3.0"/>
<circle cx="1379.0" cy="1165.8" r="3.0"/>
<circle cx="1380.9" cy="1164.8" r="3.0"/>
<circle cx="1382.7" cy="1163.7" r="3.0"/>
<circle cx="1384.5" cy="1162.7" r="3.0"/>
<circle cx="1386.3" cy="1161.6" r="3.0"/>
<circle cx="1388.2" cy="1160.4" r="3.0"/>
<circle cx="1390.0" cy="1159.0" r="3.0"/>
<circle cx="1391.8" cy="1157.6" r="3.0"/>
<circle cx="1393.6" cy="1156.1" r="3.0"/>
<circle cx="1395.5" cy="1154.6" r="3.0"/>
<circle cx="1397.3" cy="1153.0" r="3.0"/>
<circle cx="1399.1" cy="1151.4" r="3.0"/>
<circle cx="1400.9" cy="1149.8" r="3.0"/>
<circle cx="1402.8" cy="1148.2" r="3.0"/>
<circle cx="1404.6" cy="1146.6" r="3.0"/>
<circle cx="1406.4" cy="1145.0" r="3.0"/>
<circle cx="1408.2" cy="1143.3" r="3.0"/>
<circle cx="1410.1" cy="1141.5" r="3.0"/>
<circle cx="1411.9" cy="1139.5" r="3.0"/>
<circle cx="1413.7" cy="1137.4" r="3.0"/>
<circle cx="1415.5" cy="1135.1" r="3.0"/>
<circle cx="1417.4" cy="1132.7" r="3.0"/>
<circle cx="1419.2" cy="1130.2" r="3.0"/>
<circle cx="1421.0" cy="1127.6" r="3.0"/>
<circle cx="1422.8" cy="1125.0" r="3.0"/>
<circle cx="1424.7" cy="1122.4" r="3.0"/>
<circle cx="1426.5" cy="1119.7" r="3.0"/>
<circle cx="1428.3" cy="1117.0" r="3.0"/>
<circle cx="1430.1" cy="1114.2" r="3.0"/>
<circle cx="1432.0" cy="1111.2" r="3.0"/>
<circle cx="1433.8" cy="1108.0" r="3.0"/>
<circle cx="1435.6" cy="1104.6" r="3.0"/>
<circle cx="1437.4" cy="1100.9" r="3.0"/>
<circle cx="1439.2" cy="1097.2" r="3.0"/>
<circle cx="1441.1" cy="1093.3" r="3.0"/>
<circle cx="1442.9" cy="1089.4" r="3.0"/>
<circle cx="1444.7" cy="1085.6" r="3.0"/>
<circle cx="1446.5" cy="1081.7" r="3.0"/>
<circle cx="1448.4" cy="1077.8" r="3.0"/>
<circle cx="1450.2" cy="1074.0" r="3.0"/>
<circle cx="1452.0" cy="1070.3" r="3.0"/>
<circle cx="1453.8" cy="1066.7" r="3.0"/>
<circle cx="1455.7" cy="1063.3" r="3.0"/>
<circle cx="1457.5" cy="1060.1" r="3.0"/>
<circle cx="1459.3" cy="1056.9" r="3.0"/>
<circle cx="1461.1" cy="1053.8" r="3.0"/>
<circle cx="1463.0" cy="1050.7" r="3.0"/>
<circle cx="1464.8" cy="1047.7" r="3.0"/>
<circle cx="1466.6" cy="1044.6" r="3.0"/>
<circle cx="1468.4" cy="1041.6" r="3.0"/>
<circle cx="1470.3" cy="1038.6" r="3.0"/>
<circle cx="1472.1" cy="1035.6" r="3.0"/>
<circle cx="1473.9" cy="1032.6" r="3.0"/>
<circle cx="1475.7" cy="1029.7" r="3.0"/>
<circle cx="1477.6" cy="1026.8" r="3.0"/>
<circle cx="1479.4" cy="1023.8" r="3.0"/>
<circle cx="1481.2" cy="1020.9" r="3.0"/>
<circle cx="1483.0" cy="1018.0" r="3.0"/>
<circle cx="1484.9" cy="1015.0" r="3.0"/>
<circle cx="1486.7" cy="1012.1" r="3.0"/>
<circle cx="1488.5" cy="1009.0" r="3.0"/>
<circle cx="1490.3" cy="1006.0" r="3.0"/>
<circle cx="1492.2" cy="1002.8" r="3.0"/>
<circle cx="1494.0" cy="999.5" r="3.0"/>
<circle cx="1495.8" cy="995.9" r="3.0"/>
<circle cx="1497.6" cy="992.0" r="3.0"/>
<circle cx="1499.4" cy="987.8" r="3.0"/>
<circle cx="1501.3" cy="983.1" r="3.0"/>
<circle cx="1503.1" cy="978.0" r="3.0"/>
<circle cx="1504.9" cy="972.6" r="3.0"/>
<circle cx="1506.7" cy="966.9" r="3.0"/>
<circle cx="1508.6" cy="961.0" r="3.0"/>
<circle cx="1510.4" cy="955.0" r="3.0"/>
<circle cx="1512.2" cy="949.0" r="3.0"/>
<circle cx="1514.0" cy="943.1" r="3.0"/>
<circle cx="1515.9" cy="937.2" r="3.0"/>
<circle cx="1517.7" cy="931.4" r="3.0"/>
<circle cx="1519.5" cy="925.3" r="3.0"/>
<circle cx="1521.3" cy="918.9" r="3.0"/>
<circle cx="1523.2" cy="912.3" r="3.0"/>
<circle cx="1525.0" cy="905.3" r="3.0"/>
<circle cx="1526.8" cy="898.0" r="3.0"/>
<circle cx="1528.6" cy="890.7" r="3.0"/>
<circle cx="1530.5" cy="883.2" r="3.0"/>
<circle cx="1532.3" cy="876.3" r="3.0"/>
<circle cx="1534.1" cy="870.5" r="3.0"/>
<circle cx="1535.9" cy="865.5" r="3.0"/>
<circle cx="1537.8" cy="861.2" r="3.0"/>
<circle cx="1539.6" cy="857.4" r="3.0"/>
<circle cx="1541.4" cy="855.1" r="3.0"/>
<circle cx="1543.2" cy="853.5" r="3.0"/>
<circle cx="1545.1" cy="852.2" r="3.0"/>
<circle cx="1546.9" cy="851.6" r="3.0"/>
<circle cx="1548.7" cy="852.1" r="3.0"/>
<circle cx="1550.5" cy="853.3" r="3.0"/>
<circle cx="1552.4" cy="855.0" r="3.0"/>
<circle cx="1554.2" cy="857.6" r="3.0"/>
<circle cx="1556.0" cy="860.6" r="3.0"/>
<circle cx="1557.8" cy="864.3" r="3.0"/>
<circle cx="1559.6" cy="869.5" r="3.0"/>
<circle cx="1561.5" cy="874.8" r="3.0"/>
<circle cx="1563.3" cy="878.8" r="3.0"/>
<circle cx="1565.1" cy="882.7" r="3.0"/>
<circle cx="1566.9" cy="888.4" r="3.0"/>
<circle cx="1568.8" cy="898.3" r="3.0"/>
<circle cx="1570.6" cy="912.4" r="3.0"/>
<circle cx="1572.4" cy="925.4" r="3.0"/>
<circle cx="1574.2" cy="938.3" r="3.0"/>
<circle cx="1576.1" cy="950.3" r="3.0"/>
<circle cx="1577.9" cy="961.4" r="3.0"/>
<circle cx="1579.7" cy="972.3" r="3.0"/>
<circle cx="1581.5" cy="983.3" r="3.0"/>
<circle cx="1583.4" cy="994.4" r="3.0"/>
<circle cx="1585.2" cy="1005.9" r="3.0"/>
<circle cx="1587.0" cy="1017.6" r="3.0"/>
<circle cx="1588.8" cy="1029.3" r="3.0"/>
<circle cx="1590.7" cy="1040.7" r="3.0"/>
<circle cx="1592.5" cy="1051.7" r="3.0"/>
<circle cx="1594.3" cy="1062.0" r="3.0"/>
<circle cx="1596.1" cy="1071.9" r="3.0"/>
<circle cx="1598.0" cy="1081.5" r="3.0"/>
<circle cx="1599.8" cy="1090.9" r="3.0"/>
<circle cx="1601.6" cy="1100.2" r="3.0"/>
<circle cx="1603.4" cy="1109.1" r="3.0"/>
<circle cx="1605.3" cy="1117.4" r="3.0"/>
<circle cx="1607.1" cy="1125.0" r="3.0"/>
<circle cx="1608.9" cy="1131.8" r="3.0"/>
<circle cx="1610.7" cy="1138.1" r="3.0"/>
<circle cx="1612.6" cy="1143.9" r="3.0"/>
<circle cx="1614.4" cy="1149.3" r="3.0"/>
<circle cx="1616.2" cy="1154.4" r="3.0"/>
<circle cx="1618.0" cy="1159.0" r="3.0"/>
<circle cx="1619.8" cy="1163.2" r="3.0"/>
<circle cx="1621.7" cy="1166.9" r="3.0"/>
<circle cx="1623.5" cy="1170.0" r="3.0"/>
<circle cx="1625.3" cy="1172.8" r="3.0"/>
<circle cx="1627.1" cy="1175.2" r="3.0"/>
<circle cx="1629.0" cy="1177.4" r="3.0"/>
<circle cx="1630.8" cy="1179.2" r="3.0"/>
<circle cx="1632.6" cy="1180.9" r="3.0"/>
<circle cx="1634.4" cy="1182.3" r="3.0"/>
<circle cx="1636.3" cy="1183.6" r="3.0"/>
<circle cx="1638.1" cy="1184.8" r="3.0"/>
<circle cx="1639.9" cy="1185.9" r="3.0"/>
<circle cx="1641.7" cy="1186.9" r="3.0"/>
<circle cx="1643.6" cy="1187.9" r="3.0"/>
<circle cx="1645.4" cy="1188.8" r="3.0"/>
<circle cx="1647.2" cy="1189.7" r="3.0"/>
<circle cx="1649.0" cy="1190.4" r="3.0"/>
<circle cx="1650.9" cy="1191.1" r="3.0"/>
<circle cx="1652.7" cy="1191.7" r="3.0"/>
<circle cx="1654.5" cy="1192.2" r="3.0"/>
<circle cx="1656.3" cy="1192.7" r="3.0"/>
<circle cx="1658.2" cy="1193.2" r="3.0"/>
<circle cx="1660.0" cy="1193.7" r="3.0"/>
<circle cx="1661.8" cy="1194.2" r="3.0"/>
<circle cx="1663.6" cy="1194.6" r="3.0"/>
<circle cx="1665.5" cy="1195.0" r="3.0"/>
<circle cx="1667.3" cy="1195.2" r="3.0"/>
<circle cx="1669.1" cy="1195.4" r="3.0"/>
<circle cx="1670.9" cy="1195.5" r="3.0"/>
<circle cx="1672.8" cy="1195.7" r="3.0"/>
<circle cx="1674.6" cy="1195.8" r="3.0"/>
<circle cx="1676.4" cy="1195.9" r="3.0"/>
<circle cx="1678.2" cy="1195.9" r="3.0"/>
<circle cx="1680.0" cy="1196.0" r="3.0"/>
<circle cx="1681.9" cy="1196.1" r="3.0"/>
<circle cx="1683.7" cy="1196.2" r="3.0"/>
<circle cx="1685.5" cy="1196.3" r="3.0"/>
<circle cx="1687.3" cy="1196.4" r="3.0"/>
<circle cx="1689.2" cy="1196.5" r="3.0"/>
<circle cx="1691.0" cy="1196.5" r="3.0"/>
<circle cx="1692.8" cy="1196.6" r="3.0"/>
<circle cx="1694.6" cy="1196.6" r="3.0"/>
<circle cx="1696.5" cy="1196.6" r="3.0"/>
<circle cx="1698.3" cy="1196.6" r="3.0"/>
<circle cx="1700.1" cy="1196.6" r="3.0"/>
<circle cx="1701.9" cy="1196.6" r="3.0"/>
<circle cx="1703.8" cy="1196.6" r="3.0"/>
<circle cx="1705.6" cy="1196.6" r="3.0"/>
<circle cx="1707.4" cy="1196.6" r="3.0"/>
<circle cx="1709.2" cy="1196.6" r="3.0"/>
<circle cx="1711.1" cy="1196.6" r="3.0"/>
<circle cx="1712.9" cy="1196.6" r="3.0"/>
<circle cx="1714.7" cy="1196.6" r="3.0"/>
<circle cx="1716.5" cy="1196.6" r="3.0"/>
<circle cx="1718.4" cy="1196.6" r="3.0"/>
<circle cx="1720.2" cy="1196.6" r="3.0"/>
<circle cx="1722.0" cy="1196.6" r="3.0"/>
<circle cx="1723.8" cy="1196.6" r="3.0"/>
<circle cx="1725.7" cy="1196.6" r="3.0"/>
<circle cx="1727.5" cy="1196.6" r="3.0"/>
<circle cx="1729.3" cy="1196.6" r="3.0"/>
<circle cx="1731.1" cy="1196.6" r="3.0"/>
<circle cx="1733.0" cy="1196.6" r="3.0"/>
<circle cx="1734.8" cy="1196.6" r="3.0"/>
<circle cx="1736.6" cy="1196.6" r="3.0"/>
</g>
<rect x="1006.9" y="732.4" width="729.7" height="467.9" fill="none" stroke="#200f1a" stroke-width="2.4"/>
<text x="992" y="1210.6" text-anchor="end" font-size="29.5">0.0</text>
<line x1="1006.9" y1="1044.3" x2="1015.9" y2="1044.3" stroke="#200f1a" stroke-width="2.4"/>
<text x="992" y="1054.6" text-anchor="end" font-size="29.5">0.4</text>
<line x1="1006.9" y1="888.4" x2="1015.9" y2="888.4" stroke="#200f1a" stroke-width="2.4"/>
<text x="992" y="898.7" text-anchor="end" font-size="29.5">0.8</text>
<text x="992" y="742.7" text-anchor="end" font-size="29.5">1.2</text>
<text x="1006.9" y="1235.8" text-anchor="middle" font-size="29.5">350</text>
<line x1="1189.3" y1="1200.3" x2="1189.3" y2="1191.3" stroke="#200f1a" stroke-width="2.4"/>
<text x="1189.3" y="1235.8" text-anchor="middle" font-size="29.5">450</text>
<line x1="1371.8" y1="1200.3" x2="1371.8" y2="1191.3" stroke="#200f1a" stroke-width="2.4"/>
<text x="1371.8" y="1235.8" text-anchor="middle" font-size="29.5">550</text>
<line x1="1554.2" y1="1200.3" x2="1554.2" y2="1191.3" stroke="#200f1a" stroke-width="2.4"/>
<text x="1554.2" y="1235.8" text-anchor="middle" font-size="29.5">650</text>
<text x="1736.6" y="1235.8" text-anchor="middle" font-size="29.5">750</text>
<text x="1371.8" y="1281.3" text-anchor="middle" font-size="29">Wavelength (nm)</text>
<text transform="translate(929.6,966.7) rotate(-90)" text-anchor="middle" font-size="29.4">Absorbance</text>
<circle cx="1049.8" cy="768.8" r="4.4" fill="#f57a2a"/><circle cx="1049.8" cy="809" r="4.4" fill="#2e6cd0"/>
<text x="1066.5" y="778.8" font-size="25.6">Toluene</text><text x="1066.5" y="819" font-size="25.6">Chloroform</text>
<text x="882.5" y="733.8" font-size="42" font-weight="bold">d</text>
</svg>
</body></html>
